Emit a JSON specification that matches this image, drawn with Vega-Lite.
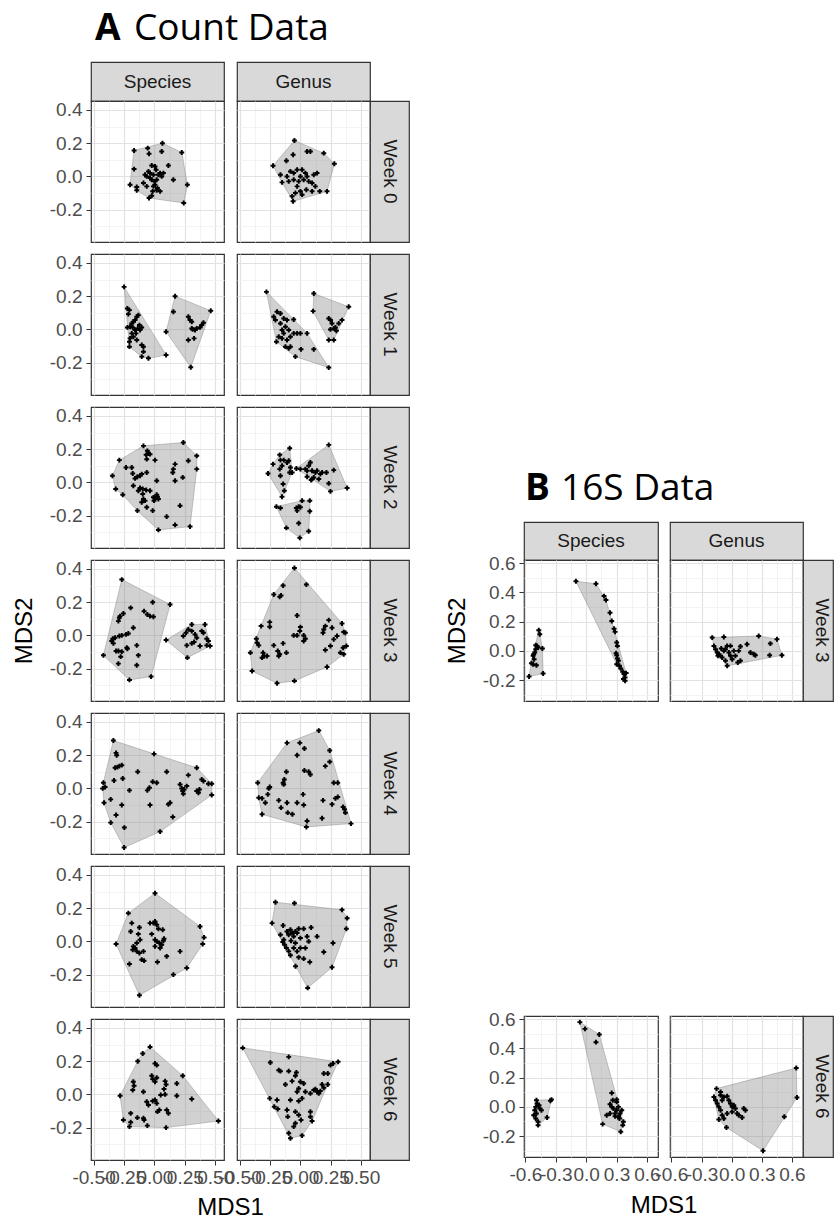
{
"$schema":"https://vega.github.io/schema/vega-lite/v6.json",
"padding":0,
"background":"#ffffff",
"spacing":0,
"config":{"view":{"stroke":null},"axis":{"labelFont":"Liberation Sans","labelFontSize":19,"labelColor":"#4d4d4d","titleFont":"Liberation Sans","titleFontSize":24,"titleFontWeight":"normal","titleColor":"#000000","domain":false,"labelOverlap":false,"labelFlush":false,"labelBound":false}},
"datasets":{
"hull":[
{"p":"A0S","g":1,"o":1,"x":0.066,"y":0.2},{"p":"A0S","g":1,"o":2,"x":0.225,"y":0.144},{"p":"A0S","g":1,"o":3,"x":0.271,"y":-0.05},{"p":"A0S","g":1,"o":4,"x":0.241,"y":-0.16},{"p":"A0S","g":1,"o":5,"x":-0.044,"y":-0.13},{"p":"A0S","g":1,"o":6,"x":-0.145,"y":-0.084},{"p":"A0S","g":1,"o":7,"x":-0.2,"y":-0.05},{"p":"A0S","g":1,"o":8,"x":-0.167,"y":0.156},
{"p":"A0G","g":1,"o":1,"x":-0.049,"y":0.216},{"p":"A0G","g":1,"o":2,"x":0.192,"y":0.14},{"p":"A0G","g":1,"o":3,"x":0.279,"y":0.076},{"p":"A0G","g":1,"o":4,"x":0.219,"y":-0.09},{"p":"A0G","g":1,"o":5,"x":-0.06,"y":-0.15},{"p":"A0G","g":1,"o":6,"x":-0.151,"y":-0.036},{"p":"A0G","g":1,"o":7,"x":-0.225,"y":0.064},
{"p":"A1S","g":1,"o":1,"x":-0.249,"y":0.256},{"p":"A1S","g":1,"o":2,"x":0.096,"y":-0.154},{"p":"A1S","g":1,"o":3,"x":-0.049,"y":-0.174},{"p":"A1S","g":1,"o":4,"x":-0.104,"y":-0.164},{"p":"A1S","g":1,"o":5,"x":-0.205,"y":-0.104},
{"p":"A1S","g":2,"o":1,"x":0.17,"y":0.2},{"p":"A1S","g":2,"o":2,"x":0.463,"y":0.112},{"p":"A1S","g":2,"o":3,"x":0.299,"y":-0.228},{"p":"A1S","g":2,"o":4,"x":0.096,"y":-0.014},
{"p":"A1G","g":1,"o":1,"x":-0.279,"y":0.226},{"p":"A1G","g":1,"o":2,"x":-0.055,"y":0.06},{"p":"A1G","g":1,"o":3,"x":0.055,"y":-0.024},{"p":"A1G","g":1,"o":4,"x":0.233,"y":-0.23},{"p":"A1G","g":1,"o":5,"x":-0.041,"y":-0.164},{"p":"A1G","g":1,"o":6,"x":-0.197,"y":-0.074},
{"p":"A1G","g":2,"o":1,"x":0.11,"y":0.216},{"p":"A1G","g":2,"o":2,"x":0.397,"y":0.136},{"p":"A1G","g":2,"o":3,"x":0.274,"y":-0.064},{"p":"A1G","g":2,"o":4,"x":0.233,"y":-0.064},{"p":"A1G","g":2,"o":5,"x":0.104,"y":0.11},
{"p":"A2S","g":1,"o":1,"x":-0.09,"y":0.22},{"p":"A2S","g":1,"o":2,"x":0.238,"y":0.24},{"p":"A2S","g":1,"o":3,"x":0.348,"y":0.16},{"p":"A2S","g":1,"o":4,"x":0.348,"y":0.08},{"p":"A2S","g":1,"o":5,"x":0.293,"y":-0.266},{"p":"A2S","g":1,"o":6,"x":0.033,"y":-0.286},{"p":"A2S","g":1,"o":7,"x":-0.14,"y":-0.17},{"p":"A2S","g":1,"o":8,"x":-0.26,"y":-0.074},{"p":"A2S","g":1,"o":9,"x":-0.318,"y":-0.04},{"p":"A2S","g":1,"o":10,"x":-0.345,"y":0.04},{"p":"A2S","g":1,"o":11,"x":-0.288,"y":0.134},
{"p":"A2G","g":1,"o":1,"x":-0.088,"y":0.206},{"p":"A2G","g":1,"o":2,"x":-0.068,"y":0.06},{"p":"A2G","g":1,"o":3,"x":-0.151,"y":-0.086},{"p":"A2G","g":1,"o":4,"x":-0.266,"y":0.054},{"p":"A2G","g":1,"o":5,"x":-0.225,"y":0.11},{"p":"A2G","g":1,"o":6,"x":-0.17,"y":0.166},
{"p":"A2G","g":2,"o":1,"x":0.233,"y":0.226},{"p":"A2G","g":2,"o":2,"x":0.384,"y":-0.034},{"p":"A2G","g":2,"o":3,"x":0.247,"y":-0.054},{"p":"A2G","g":2,"o":4,"x":-0.033,"y":0.084},
{"p":"A2G","g":3,"o":1,"x":-0.197,"y":-0.146},{"p":"A2G","g":3,"o":2,"x":0.014,"y":-0.11},{"p":"A2G","g":3,"o":3,"x":0.077,"y":-0.11},{"p":"A2G","g":3,"o":4,"x":0.077,"y":-0.174},{"p":"A2G","g":3,"o":5,"x":0.068,"y":-0.294},{"p":"A2G","g":3,"o":6,"x":-0.005,"y":-0.334},{"p":"A2G","g":3,"o":7,"x":-0.115,"y":-0.274},
{"p":"A3S","g":1,"o":1,"x":-0.268,"y":0.336},{"p":"A3S","g":1,"o":2,"x":0.129,"y":0.186},{"p":"A3S","g":1,"o":3,"x":-0.027,"y":-0.248},{"p":"A3S","g":1,"o":4,"x":-0.205,"y":-0.268},{"p":"A3S","g":1,"o":5,"x":-0.419,"y":-0.12},
{"p":"A3S","g":2,"o":1,"x":0.307,"y":0.066},{"p":"A3S","g":2,"o":2,"x":0.416,"y":0.066},{"p":"A3S","g":2,"o":3,"x":0.458,"y":-0.064},{"p":"A3S","g":2,"o":4,"x":0.271,"y":-0.134},{"p":"A3S","g":2,"o":5,"x":0.096,"y":-0.028},
{"p":"A3G","g":1,"o":1,"x":-0.049,"y":0.406},{"p":"A3G","g":1,"o":2,"x":0.342,"y":0.072},{"p":"A3G","g":1,"o":3,"x":0.37,"y":0.016},{"p":"A3G","g":1,"o":4,"x":0.378,"y":-0.064},{"p":"A3G","g":1,"o":5,"x":0.356,"y":-0.114},{"p":"A3G","g":1,"o":6,"x":0.219,"y":-0.19},{"p":"A3G","g":1,"o":7,"x":-0.049,"y":-0.274},{"p":"A3G","g":1,"o":8,"x":-0.192,"y":-0.288},{"p":"A3G","g":1,"o":9,"x":-0.397,"y":-0.214},{"p":"A3G","g":1,"o":10,"x":-0.411,"y":-0.104},{"p":"A3G","g":1,"o":11,"x":-0.219,"y":0.246},
{"p":"A4S","g":1,"o":1,"x":-0.337,"y":0.288},{"p":"A4S","g":1,"o":2,"x":0.348,"y":0.124},{"p":"A4S","g":1,"o":3,"x":0.471,"y":0.028},{"p":"A4S","g":1,"o":4,"x":0.471,"y":-0.04},{"p":"A4S","g":1,"o":5,"x":0.047,"y":-0.26},{"p":"A4S","g":1,"o":6,"x":-0.249,"y":-0.356},{"p":"A4S","g":1,"o":7,"x":-0.359,"y":-0.206},{"p":"A4S","g":1,"o":8,"x":-0.414,"y":-0.086},{"p":"A4S","g":1,"o":9,"x":-0.425,"y":0},{"p":"A4S","g":1,"o":10,"x":-0.419,"y":0.034},
{"p":"A4G","g":1,"o":1,"x":0.151,"y":0.348},{"p":"A4G","g":1,"o":2,"x":0.241,"y":0.228},{"p":"A4G","g":1,"o":3,"x":0.416,"y":-0.212},{"p":"A4G","g":1,"o":4,"x":0.049,"y":-0.232},{"p":"A4G","g":1,"o":5,"x":-0.315,"y":-0.156},{"p":"A4G","g":1,"o":6,"x":-0.342,"y":-0.056},{"p":"A4G","g":1,"o":7,"x":-0.351,"y":0.034},{"p":"A4G","g":1,"o":8,"x":-0.11,"y":0.274},
{"p":"A5S","g":1,"o":1,"x":0.005,"y":0.29},{"p":"A5S","g":1,"o":2,"x":0.375,"y":0.09},{"p":"A5S","g":1,"o":3,"x":0.408,"y":0.024},{"p":"A5S","g":1,"o":4,"x":0.397,"y":-0.016},{"p":"A5S","g":1,"o":5,"x":0.266,"y":-0.16},{"p":"A5S","g":1,"o":6,"x":-0.123,"y":-0.324},{"p":"A5S","g":1,"o":7,"x":-0.315,"y":-0.016},{"p":"A5S","g":1,"o":8,"x":-0.214,"y":0.17},
{"p":"A5G","g":1,"o":1,"x":-0.205,"y":0.236},{"p":"A5G","g":1,"o":2,"x":0.342,"y":0.19},{"p":"A5G","g":1,"o":3,"x":0.384,"y":0.14},{"p":"A5G","g":1,"o":4,"x":0.378,"y":0.076},{"p":"A5G","g":1,"o":5,"x":0.26,"y":-0.156},{"p":"A5G","g":1,"o":6,"x":0.06,"y":-0.28},{"p":"A5G","g":1,"o":7,"x":-0.233,"y":0.11},
{"p":"A6S","g":1,"o":1,"x":-0.036,"y":0.286},{"p":"A6S","g":1,"o":2,"x":0.233,"y":0.112},{"p":"A6S","g":1,"o":3,"x":0.526,"y":-0.16},{"p":"A6S","g":1,"o":4,"x":0.096,"y":-0.2},{"p":"A6S","g":1,"o":5,"x":-0.205,"y":-0.194},{"p":"A6S","g":1,"o":6,"x":-0.255,"y":-0.154},{"p":"A6S","g":1,"o":7,"x":-0.282,"y":-0.008},{"p":"A6S","g":1,"o":8,"x":-0.137,"y":0.2},{"p":"A6S","g":1,"o":9,"x":-0.096,"y":0.246},
{"p":"A6G","g":1,"o":1,"x":-0.474,"y":0.28},{"p":"A6G","g":1,"o":2,"x":0.31,"y":0.196},{"p":"A6G","g":1,"o":3,"x":0.225,"y":0.06},{"p":"A6G","g":1,"o":4,"x":0.096,"y":-0.16},{"p":"A6G","g":1,"o":5,"x":0.014,"y":-0.248},{"p":"A6G","g":1,"o":6,"x":-0.082,"y":-0.264},
{"p":"B3S","g":1,"o":1,"x":-0.468,"y":0.141},{"p":"B3S","g":1,"o":2,"x":-0.432,"y":0.016},{"p":"B3S","g":1,"o":3,"x":-0.425,"y":-0.155},{"p":"B3S","g":1,"o":4,"x":-0.564,"y":-0.175},{"p":"B3S","g":1,"o":5,"x":-0.541,"y":-0.084},
{"p":"B3S","g":2,"o":1,"x":-0.101,"y":0.477},{"p":"B3S","g":2,"o":2,"x":0.097,"y":0.459},{"p":"B3S","g":2,"o":3,"x":0.196,"y":0.348},{"p":"B3S","g":2,"o":4,"x":0.395,"y":-0.152},{"p":"B3S","g":2,"o":5,"x":0.385,"y":-0.205},{"p":"B3S","g":2,"o":6,"x":0.302,"y":-0.091},
{"p":"B3G","g":1,"o":1,"x":-0.194,"y":0.091},{"p":"B3G","g":1,"o":2,"x":0.269,"y":0.102},{"p":"B3G","g":1,"o":3,"x":0.451,"y":0.08},{"p":"B3G","g":1,"o":4,"x":0.5,"y":-0.03},{"p":"B3G","g":1,"o":5,"x":-0.045,"y":-0.102},{"p":"B3G","g":1,"o":6,"x":-0.177,"y":0.034},
{"p":"B6S","g":1,"o":1,"x":-0.491,"y":0.045},{"p":"B6S","g":1,"o":2,"x":-0.343,"y":0.05},{"p":"B6S","g":1,"o":3,"x":-0.386,"y":-0.073},{"p":"B6S","g":1,"o":4,"x":-0.475,"y":-0.125},{"p":"B6S","g":1,"o":5,"x":-0.518,"y":-0.057},
{"p":"B6S","g":2,"o":1,"x":-0.062,"y":0.58},{"p":"B6S","g":2,"o":2,"x":0.13,"y":0.495},{"p":"B6S","g":2,"o":3,"x":0.368,"y":-0.102},{"p":"B6S","g":2,"o":4,"x":0.342,"y":-0.17},{"p":"B6S","g":2,"o":5,"x":0.163,"y":-0.118},
{"p":"B6G","g":1,"o":1,"x":-0.151,"y":0.125},{"p":"B6G","g":1,"o":2,"x":0.643,"y":0.266},{"p":"B6G","g":1,"o":3,"x":0.65,"y":0.064},{"p":"B6G","g":1,"o":4,"x":0.312,"y":-0.3},{"p":"B6G","g":1,"o":5,"x":-0.052,"y":-0.141},{"p":"B6G","g":1,"o":6,"x":-0.128,"y":-0.086},{"p":"B6G","g":1,"o":7,"x":-0.177,"y":0.068}
],
"pts":[
{"p":"A0S","x":0.066,"y":0.2},{"p":"A0S","x":0.225,"y":0.144},{"p":"A0S","x":0.06,"y":0.15},{"p":"A0S","x":-0.055,"y":0.17},{"p":"A0S","x":-0.044,"y":0.136},{"p":"A0S","x":-0.167,"y":0.156},{"p":"A0S","x":-0.167,"y":0.044},{"p":"A0S","x":0.115,"y":0.066},{"p":"A0S","x":-0.022,"y":0.066},{"p":"A0S","x":0.047,"y":0.02},{"p":"A0S","x":0.156,"y":-0.02},{"p":"A0S","x":0.271,"y":-0.05},{"p":"A0S","x":0.241,"y":-0.16},{"p":"A0S","x":-0.2,"y":-0.05},{"p":"A0S","x":-0.145,"y":-0.064},{"p":"A0S","x":-0.145,"y":-0.084},{"p":"A0S","x":-0.044,"y":-0.13},{"p":"A0S","x":-0.022,"y":-0.116},{"p":"A0S","x":0.019,"y":-0.084},{"p":"A0S","x":0,"y":-0.03},{"p":"A0S","x":-0.063,"y":0},{"p":"A0S","x":-0.049,"y":0.03},{"p":"A0S","x":-0.036,"y":0.02},{"p":"A0S","x":-0.008,"y":0.01},{"p":"A0S","x":-0.022,"y":-0.02},{"p":"A0S","x":0.005,"y":-0.05},{"p":"A0S","x":0.019,"y":-0.02},{"p":"A0S","x":0.033,"y":0.01},{"p":"A0S","x":0.014,"y":0.04},{"p":"A0S","x":0.06,"y":0},{"p":"A0S","x":0.074,"y":0.02},{"p":"A0S","x":-0.09,"y":-0.04},{"p":"A0S","x":-0.008,"y":-0.06},{"p":"A0S","x":-0.063,"y":-0.06},{"p":"A0S","x":0.025,"y":-0.07},{"p":"A0S","x":0.047,"y":-0.09},{"p":"A0S","x":-0.014,"y":-0.09},{"p":"A0S","x":0.005,"y":0.06},{"p":"A0S","x":-0.036,"y":-0.01},{"p":"A0S","x":-0.077,"y":0.01},
{"p":"A0G","x":-0.049,"y":0.216},{"p":"A0G","x":-0.225,"y":0.064},{"p":"A0G","x":0.279,"y":0.076},{"p":"A0G","x":0.192,"y":0.14},{"p":"A0G","x":0.055,"y":0.15},{"p":"A0G","x":0.082,"y":0.15},{"p":"A0G","x":-0.06,"y":0.13},{"p":"A0G","x":-0.115,"y":0.094},{"p":"A0G","x":-0.164,"y":0.01},{"p":"A0G","x":-0.151,"y":-0.036},{"p":"A0G","x":-0.06,"y":-0.15},{"p":"A0G","x":-0.068,"y":-0.12},{"p":"A0G","x":-0.041,"y":-0.1},{"p":"A0G","x":-0.027,"y":-0.06},{"p":"A0G","x":-0.014,"y":-0.03},{"p":"A0G","x":0,"y":0},{"p":"A0G","x":-0.055,"y":0.02},{"p":"A0G","x":-0.082,"y":0.03},{"p":"A0G","x":0.014,"y":0.04},{"p":"A0G","x":0.041,"y":0.02},{"p":"A0G","x":0.055,"y":0},{"p":"A0G","x":0.027,"y":-0.02},{"p":"A0G","x":0.068,"y":-0.03},{"p":"A0G","x":0.096,"y":-0.04},{"p":"A0G","x":0.11,"y":0.01},{"p":"A0G","x":0.137,"y":0.02},{"p":"A0G","x":0.123,"y":-0.06},{"p":"A0G","x":0.096,"y":-0.09},{"p":"A0G","x":0.049,"y":-0.08},{"p":"A0G","x":0,"y":-0.09},{"p":"A0G","x":0.014,"y":-0.11},{"p":"A0G","x":0.219,"y":-0.09},{"p":"A0G","x":0.159,"y":-0.09},{"p":"A0G","x":-0.027,"y":0.04},{"p":"A0G","x":-0.11,"y":0},{"p":"A0G","x":-0.096,"y":-0.03},{"p":"A0G","x":-0.055,"y":-0.02},
{"p":"A1S","x":-0.249,"y":0.256},{"p":"A1S","x":-0.222,"y":0.126},{"p":"A1S","x":-0.205,"y":0.116},{"p":"A1S","x":-0.214,"y":0.092},{"p":"A1S","x":-0.222,"y":0.012},{"p":"A1S","x":-0.2,"y":0.016},{"p":"A1S","x":-0.186,"y":0.036},{"p":"A1S","x":-0.173,"y":0.046},{"p":"A1S","x":-0.159,"y":0.056},{"p":"A1S","x":-0.145,"y":0.076},{"p":"A1S","x":-0.132,"y":0.086},{"p":"A1S","x":-0.137,"y":0.006},{"p":"A1S","x":-0.118,"y":-0.004},{"p":"A1S","x":-0.104,"y":0.012},{"p":"A1S","x":-0.186,"y":-0.024},{"p":"A1S","x":-0.173,"y":-0.044},{"p":"A1S","x":-0.2,"y":-0.054},{"p":"A1S","x":-0.205,"y":-0.074},{"p":"A1S","x":-0.205,"y":-0.104},{"p":"A1S","x":-0.145,"y":-0.064},{"p":"A1S","x":-0.104,"y":-0.094},{"p":"A1S","x":-0.09,"y":-0.104},{"p":"A1S","x":-0.09,"y":-0.134},{"p":"A1S","x":-0.104,"y":-0.164},{"p":"A1S","x":-0.049,"y":-0.174},{"p":"A1S","x":0.096,"y":-0.154},{"p":"A1S","x":-0.159,"y":-0.004},{"p":"A1S","x":-0.178,"y":0.012},{"p":"A1S","x":-0.123,"y":0.026},{"p":"A1S","x":-0.151,"y":-0.024},
{"p":"A1S","x":0.096,"y":-0.014},{"p":"A1S","x":0.156,"y":0.106},{"p":"A1S","x":0.17,"y":0.2},{"p":"A1S","x":0.463,"y":0.112},{"p":"A1S","x":0.299,"y":-0.228},{"p":"A1S","x":0.279,"y":0.076},{"p":"A1S","x":0.293,"y":0.056},{"p":"A1S","x":0.307,"y":0.046},{"p":"A1S","x":0.334,"y":-0.004},{"p":"A1S","x":0.348,"y":0.006},{"p":"A1S","x":0.375,"y":0.012},{"p":"A1S","x":0.389,"y":0.026},{"p":"A1S","x":0.403,"y":0.04},{"p":"A1S","x":0.307,"y":0.006},{"p":"A1S","x":0.279,"y":-0.064},{"p":"A1S","x":0.326,"y":-0.054},{"p":"A1S","x":0.315,"y":0},
{"p":"A1G","x":-0.279,"y":0.226},{"p":"A1G","x":0.233,"y":-0.23},{"p":"A1G","x":0.11,"y":-0.12},{"p":"A1G","x":-0.041,"y":-0.164},{"p":"A1G","x":-0.096,"y":-0.114},{"p":"A1G","x":-0.197,"y":-0.074},{"p":"A1G","x":-0.219,"y":0.076},{"p":"A1G","x":-0.192,"y":0.106},{"p":"A1G","x":-0.164,"y":0.096},{"p":"A1G","x":-0.205,"y":0.056},{"p":"A1G","x":-0.164,"y":0.036},{"p":"A1G","x":-0.137,"y":0.066},{"p":"A1G","x":-0.11,"y":0.056},{"p":"A1G","x":-0.123,"y":0.016},{"p":"A1G","x":-0.137,"y":-0.024},{"p":"A1G","x":-0.178,"y":-0.044},{"p":"A1G","x":-0.151,"y":-0.054},{"p":"A1G","x":-0.11,"y":-0.064},{"p":"A1G","x":-0.082,"y":-0.044},{"p":"A1G","x":-0.055,"y":-0.024},{"p":"A1G","x":-0.027,"y":-0.024},{"p":"A1G","x":0,"y":-0.024},{"p":"A1G","x":0.055,"y":-0.024},{"p":"A1G","x":-0.055,"y":0.06},{"p":"A1G","x":-0.096,"y":-0.004},{"p":"A1G","x":-0.082,"y":-0.104},{"p":"A1G","x":-0.123,"y":-0.104},{"p":"A1G","x":0.005,"y":-0.12},{"p":"A1G","x":-0.151,"y":-0.004},
{"p":"A1G","x":0.11,"y":0.216},{"p":"A1G","x":0.397,"y":0.136},{"p":"A1G","x":0.104,"y":0.11},{"p":"A1G","x":0.233,"y":-0.064},{"p":"A1G","x":0.274,"y":-0.064},{"p":"A1G","x":0.233,"y":0.066},{"p":"A1G","x":0.247,"y":0.056},{"p":"A1G","x":0.26,"y":0.036},{"p":"A1G","x":0.274,"y":0.006},{"p":"A1G","x":0.247,"y":0},{"p":"A1G","x":0.288,"y":0.012},{"p":"A1G","x":0.315,"y":0.036},{"p":"A1G","x":0.342,"y":0.056},{"p":"A1G","x":0.296,"y":-0.008},
{"p":"A2S","x":-0.345,"y":0.04},{"p":"A2S","x":-0.318,"y":-0.04},{"p":"A2S","x":-0.288,"y":0.134},{"p":"A2S","x":-0.26,"y":-0.074},{"p":"A2S","x":-0.233,"y":0.09},{"p":"A2S","x":-0.186,"y":0.09},{"p":"A2S","x":-0.178,"y":0.054},{"p":"A2S","x":-0.173,"y":-0.02},{"p":"A2S","x":-0.159,"y":0.024},{"p":"A2S","x":-0.14,"y":0.034},{"p":"A2S","x":-0.118,"y":0.04},{"p":"A2S","x":-0.104,"y":0.05},{"p":"A2S","x":-0.09,"y":0.22},{"p":"A2S","x":-0.063,"y":0.06},{"p":"A2S","x":-0.058,"y":0.19},{"p":"A2S","x":-0.049,"y":0.174},{"p":"A2S","x":-0.036,"y":0.17},{"p":"A2S","x":-0.068,"y":0.166},{"p":"A2S","x":-0.063,"y":0.14},{"p":"A2S","x":0.005,"y":0.134},{"p":"A2S","x":0.019,"y":0.01},{"p":"A2S","x":-0.008,"y":-0.09},{"p":"A2S","x":0.019,"y":-0.074},{"p":"A2S","x":-0.014,"y":-0.17},{"p":"A2S","x":-0.063,"y":-0.15},{"p":"A2S","x":-0.104,"y":-0.12},{"p":"A2S","x":-0.077,"y":-0.11},{"p":"A2S","x":-0.096,"y":-0.07},{"p":"A2S","x":-0.132,"y":-0.05},{"p":"A2S","x":-0.118,"y":-0.034},{"p":"A2S","x":-0.09,"y":-0.1},{"p":"A2S","x":-0.14,"y":-0.17},{"p":"A2S","x":0.033,"y":-0.286},{"p":"A2S","x":0.101,"y":-0.206},{"p":"A2S","x":0.17,"y":-0.256},{"p":"A2S","x":0.238,"y":0.24},{"p":"A2S","x":0.279,"y":0.13},{"p":"A2S","x":0.348,"y":0.16},{"p":"A2S","x":0.348,"y":0.08},{"p":"A2S","x":0.293,"y":-0.266},{"p":"A2S","x":0.211,"y":-0.14},{"p":"A2S","x":0.17,"y":0.01},{"p":"A2S","x":0.233,"y":0.03},{"p":"A2S","x":0.156,"y":0.08},{"p":"A2S","x":0.17,"y":0.11},{"p":"A2S","x":0.151,"y":0.06},{"p":"A2S","x":-0.096,"y":-0.04},{"p":"A2S","x":-0.068,"y":-0.046},{"p":"A2S","x":-0.036,"y":-0.05},{"p":"A2S","x":-0.003,"y":-0.11},{"p":"A2S","x":0.005,"y":-0.094},{"p":"A2S","x":0.033,"y":-0.1},{"p":"A2S","x":0.025,"y":-0.086},
{"p":"A2G","x":-0.266,"y":0.054},{"p":"A2G","x":-0.225,"y":0.11},{"p":"A2G","x":-0.17,"y":0.166},{"p":"A2G","x":-0.088,"y":0.206},{"p":"A2G","x":-0.164,"y":0.134},{"p":"A2G","x":-0.137,"y":0.134},{"p":"A2G","x":-0.11,"y":0.12},{"p":"A2G","x":-0.151,"y":0.1},{"p":"A2G","x":-0.088,"y":0.06},{"p":"A2G","x":-0.068,"y":0.06},{"p":"A2G","x":-0.082,"y":0.09},{"p":"A2G","x":-0.096,"y":0.13},{"p":"A2G","x":-0.164,"y":0.04},{"p":"A2G","x":-0.142,"y":-0.01},{"p":"A2G","x":-0.132,"y":-0.05},{"p":"A2G","x":-0.151,"y":-0.086},{"p":"A2G","x":-0.17,"y":0.08},
{"p":"A2G","x":0.233,"y":0.226},{"p":"A2G","x":0.274,"y":0.074},{"p":"A2G","x":0.384,"y":-0.034},{"p":"A2G","x":0.247,"y":-0.054},{"p":"A2G","x":0.233,"y":-0.006},{"p":"A2G","x":-0.033,"y":0.084},{"p":"A2G","x":0,"y":0.08},{"p":"A2G","x":0.041,"y":0.08},{"p":"A2G","x":0.055,"y":0.07},{"p":"A2G","x":0.068,"y":0.1},{"p":"A2G","x":0.082,"y":0.12},{"p":"A2G","x":0.096,"y":0.07},{"p":"A2G","x":0.11,"y":0.03},{"p":"A2G","x":0.123,"y":0.06},{"p":"A2G","x":0.137,"y":0.07},{"p":"A2G","x":0.151,"y":0.02},{"p":"A2G","x":0.164,"y":0.05},{"p":"A2G","x":0.178,"y":0.06},{"p":"A2G","x":0.096,"y":0.02},{"p":"A2G","x":0.088,"y":0.014},{"p":"A2G","x":0.055,"y":0.034},{"p":"A2G","x":0.214,"y":0.06},
{"p":"A2G","x":-0.197,"y":-0.146},{"p":"A2G","x":-0.164,"y":-0.154},{"p":"A2G","x":-0.115,"y":-0.274},{"p":"A2G","x":-0.005,"y":-0.334},{"p":"A2G","x":0.068,"y":-0.294},{"p":"A2G","x":0.077,"y":-0.174},{"p":"A2G","x":0.077,"y":-0.11},{"p":"A2G","x":0.014,"y":-0.11},{"p":"A2G","x":-0.033,"y":-0.154},{"p":"A2G","x":-0.014,"y":-0.146},{"p":"A2G","x":-0.027,"y":-0.17},{"p":"A2G","x":-0.014,"y":-0.246},{"p":"A2G","x":0,"y":-0.15},
{"p":"A3S","x":-0.268,"y":0.336},{"p":"A3S","x":-0.014,"y":0.2},{"p":"A3S","x":0.129,"y":0.186},{"p":"A3S","x":-0.027,"y":-0.248},{"p":"A3S","x":-0.205,"y":-0.268},{"p":"A3S","x":-0.419,"y":-0.12},{"p":"A3S","x":-0.296,"y":-0.17},{"p":"A3S","x":-0.351,"y":-0.034},{"p":"A3S","x":-0.342,"y":-0.02},{"p":"A3S","x":-0.337,"y":-0.048},{"p":"A3S","x":-0.323,"y":-0.014},{"p":"A3S","x":-0.296,"y":0.086},{"p":"A3S","x":-0.288,"y":0.106},{"p":"A3S","x":-0.282,"y":0.116},{"p":"A3S","x":-0.255,"y":0.132},{"p":"A3S","x":-0.195,"y":0.166},{"p":"A3S","x":-0.288,"y":-0.004},{"p":"A3S","x":-0.268,"y":0},{"p":"A3S","x":-0.233,"y":0.006},{"p":"A3S","x":-0.214,"y":0.012},{"p":"A3S","x":-0.173,"y":0.046},{"p":"A3S","x":-0.315,"y":-0.094},{"p":"A3S","x":-0.296,"y":-0.094},{"p":"A3S","x":-0.268,"y":-0.098},{"p":"A3S","x":-0.227,"y":-0.074},{"p":"A3S","x":-0.145,"y":-0.06},{"p":"A3S","x":-0.132,"y":-0.12},{"p":"A3S","x":-0.145,"y":-0.18},{"p":"A3S","x":-0.085,"y":0.146},{"p":"A3S","x":-0.058,"y":0.126},{"p":"A3S","x":-0.036,"y":0.116},{"p":"A3S","x":-0.008,"y":0.112},{"p":"A3S","x":-0.222,"y":-0.08},{"p":"A3S","x":-0.277,"y":-0.128},
{"p":"A3S","x":0.096,"y":-0.028},{"p":"A3S","x":0.271,"y":-0.134},{"p":"A3S","x":0.458,"y":-0.064},{"p":"A3S","x":0.416,"y":0.066},{"p":"A3S","x":0.307,"y":0.066},{"p":"A3S","x":0.238,"y":-0.004},{"p":"A3S","x":0.26,"y":0.016},{"p":"A3S","x":0.279,"y":0.036},{"p":"A3S","x":0.307,"y":0.026},{"p":"A3S","x":0.334,"y":0.006},{"p":"A3S","x":0.266,"y":-0.06},{"p":"A3S","x":0.307,"y":-0.048},{"p":"A3S","x":0.326,"y":-0.04},{"p":"A3S","x":0.348,"y":-0.014},{"p":"A3S","x":0.389,"y":0.026},{"p":"A3S","x":0.403,"y":0.016},{"p":"A3S","x":0.43,"y":-0.02},{"p":"A3S","x":0.444,"y":-0.034},{"p":"A3S","x":0.375,"y":-0.064},{"p":"A3S","x":0.43,"y":-0.06},
{"p":"A3G","x":-0.049,"y":0.406},{"p":"A3G","x":0.049,"y":0.306},{"p":"A3G","x":-0.142,"y":0.3},{"p":"A3G","x":-0.219,"y":0.246},{"p":"A3G","x":-0.17,"y":0.232},{"p":"A3G","x":-0.159,"y":0.24},{"p":"A3G","x":-0.411,"y":-0.104},{"p":"A3G","x":-0.397,"y":-0.214},{"p":"A3G","x":-0.192,"y":-0.288},{"p":"A3G","x":-0.049,"y":-0.274},{"p":"A3G","x":0.219,"y":-0.19},{"p":"A3G","x":0.356,"y":-0.114},{"p":"A3G","x":0.378,"y":-0.064},{"p":"A3G","x":0.37,"y":0.016},{"p":"A3G","x":0.342,"y":0.072},{"p":"A3G","x":-0.323,"y":0.056},{"p":"A3G","x":-0.252,"y":0.08},{"p":"A3G","x":-0.252,"y":0.052},{"p":"A3G","x":-0.362,"y":-0.02},{"p":"A3G","x":-0.356,"y":-0.044},{"p":"A3G","x":-0.342,"y":-0.06},{"p":"A3G","x":-0.307,"y":-0.104},{"p":"A3G","x":-0.296,"y":-0.124},{"p":"A3G","x":-0.274,"y":-0.124},{"p":"A3G","x":-0.315,"y":-0.134},{"p":"A3G","x":-0.219,"y":-0.06},{"p":"A3G","x":-0.186,"y":-0.094},{"p":"A3G","x":-0.17,"y":-0.114},{"p":"A3G","x":-0.178,"y":-0.124},{"p":"A3G","x":-0.115,"y":-0.104},{"p":"A3G","x":-0.142,"y":-0.048},{"p":"A3G","x":-0.027,"y":0.12},{"p":"A3G","x":0,"y":0.05},{"p":"A3G","x":-0.005,"y":0.026},{"p":"A3G","x":-0.055,"y":0},{"p":"A3G","x":-0.027,"y":0},{"p":"A3G","x":0.027,"y":0},{"p":"A3G","x":0.041,"y":-0.02},{"p":"A3G","x":0.027,"y":-0.034},{"p":"A3G","x":0.233,"y":0.092},{"p":"A3G","x":0.205,"y":0.056},{"p":"A3G","x":0.192,"y":0.036},{"p":"A3G","x":0.186,"y":0.016},{"p":"A3G","x":0.26,"y":0.046},{"p":"A3G","x":0.274,"y":-0.024},{"p":"A3G","x":0.205,"y":-0.088},{"p":"A3G","x":0.247,"y":-0.064},{"p":"A3G","x":0.329,"y":-0.104},{"p":"A3G","x":0.351,"y":-0.074},{"p":"A3G","x":0.356,"y":0.02},{"p":"A3G","x":0.301,"y":-0.004},
{"p":"A4S","x":-0.337,"y":0.288},{"p":"A4S","x":-0.315,"y":0.214},{"p":"A4S","x":-0.31,"y":0.2},{"p":"A4S","x":-0.323,"y":0.124},{"p":"A4S","x":-0.304,"y":0.128},{"p":"A4S","x":-0.288,"y":0.134},{"p":"A4S","x":-0.268,"y":0.14},{"p":"A4S","x":-0.332,"y":0.048},{"p":"A4S","x":-0.26,"y":0.06},{"p":"A4S","x":-0.419,"y":0.034},{"p":"A4S","x":-0.425,"y":0},{"p":"A4S","x":-0.405,"y":0.008},{"p":"A4S","x":-0.414,"y":-0.086},{"p":"A4S","x":-0.359,"y":-0.066},{"p":"A4S","x":-0.315,"y":-0.16},{"p":"A4S","x":-0.359,"y":-0.206},{"p":"A4S","x":-0.247,"y":-0.236},{"p":"A4S","x":-0.249,"y":-0.356},{"p":"A4S","x":-0.268,"y":-0.1},{"p":"A4S","x":-0.205,"y":-0.012},{"p":"A4S","x":-0.137,"y":0.1},{"p":"A4S","x":-0.058,"y":-0.012},{"p":"A4S","x":-0.041,"y":0.004},{"p":"A4S","x":-0.036,"y":-0.1},{"p":"A4S","x":-0.003,"y":0.208},{"p":"A4S","x":-0.014,"y":0.04},{"p":"A4S","x":0.019,"y":0.034},{"p":"A4S","x":0.101,"y":0.1},{"p":"A4S","x":0.115,"y":-0.096},{"p":"A4S","x":0.129,"y":-0.086},{"p":"A4S","x":0.151,"y":-0.172},{"p":"A4S","x":0.047,"y":-0.26},{"p":"A4S","x":0.211,"y":0.024},{"p":"A4S","x":0.225,"y":0},{"p":"A4S","x":0.233,"y":-0.016},{"p":"A4S","x":0.238,"y":-0.032},{"p":"A4S","x":0.279,"y":0.08},{"p":"A4S","x":0.348,"y":0.124},{"p":"A4S","x":0.37,"y":-0.006},{"p":"A4S","x":0.362,"y":-0.026},{"p":"A4S","x":0.348,"y":-0.016},{"p":"A4S","x":0.389,"y":0.054},{"p":"A4S","x":0.403,"y":0.044},{"p":"A4S","x":0.444,"y":0.028},{"p":"A4S","x":0.471,"y":0.028},{"p":"A4S","x":0.471,"y":-0.04},{"p":"A4S","x":0.266,"y":0.014},{"p":"A4S","x":0.244,"y":-0.006},
{"p":"A4G","x":0.151,"y":0.348},{"p":"A4G","x":-0.11,"y":0.274},{"p":"A4G","x":-0.005,"y":0.274},{"p":"A4G","x":0.033,"y":0.24},{"p":"A4G","x":-0.027,"y":0.2},{"p":"A4G","x":0.241,"y":0.228},{"p":"A4G","x":0.241,"y":0.16},{"p":"A4G","x":0.205,"y":0.134},{"p":"A4G","x":0.274,"y":0.034},{"p":"A4G","x":0.307,"y":0.034},{"p":"A4G","x":0.307,"y":-0.052},{"p":"A4G","x":0.288,"y":-0.06},{"p":"A4G","x":0.26,"y":-0.096},{"p":"A4G","x":0.186,"y":-0.072},{"p":"A4G","x":0.351,"y":-0.112},{"p":"A4G","x":0.362,"y":-0.126},{"p":"A4G","x":0.37,"y":-0.146},{"p":"A4G","x":0.416,"y":-0.212},{"p":"A4G","x":0.178,"y":-0.18},{"p":"A4G","x":0.055,"y":-0.196},{"p":"A4G","x":0.049,"y":-0.232},{"p":"A4G","x":-0.351,"y":0.034},{"p":"A4G","x":-0.342,"y":-0.056},{"p":"A4G","x":-0.315,"y":-0.06},{"p":"A4G","x":-0.288,"y":-0.086},{"p":"A4G","x":-0.315,"y":-0.156},{"p":"A4G","x":-0.26,"y":0},{"p":"A4G","x":-0.252,"y":0.008},{"p":"A4G","x":-0.268,"y":-0.036},{"p":"A4G","x":-0.178,"y":-0.072},{"p":"A4G","x":-0.159,"y":-0.116},{"p":"A4G","x":-0.11,"y":-0.086},{"p":"A4G","x":-0.104,"y":-0.146},{"p":"A4G","x":-0.066,"y":-0.156},{"p":"A4G","x":-0.027,"y":-0.086},{"p":"A4G","x":0.027,"y":-0.1},{"p":"A4G","x":0.022,"y":-0.036},{"p":"A4G","x":0.068,"y":0.1},{"p":"A4G","x":0.082,"y":0.084},{"p":"A4G","x":0.033,"y":0.108},{"p":"A4G","x":-0.115,"y":0.1},{"p":"A4G","x":-0.132,"y":0.054},{"p":"A4G","x":-0.137,"y":0.024},{"p":"A4G","x":-0.142,"y":0.034},
{"p":"A5S","x":0.005,"y":0.29},{"p":"A5S","x":-0.214,"y":0.17},{"p":"A5S","x":-0.186,"y":0.11},{"p":"A5S","x":-0.195,"y":0.06},{"p":"A5S","x":-0.123,"y":0.084},{"p":"A5S","x":-0.132,"y":0.044},{"p":"A5S","x":-0.118,"y":0.01},{"p":"A5S","x":-0.145,"y":-0.01},{"p":"A5S","x":-0.173,"y":-0.03},{"p":"A5S","x":-0.178,"y":-0.05},{"p":"A5S","x":-0.159,"y":-0.04},{"p":"A5S","x":-0.145,"y":-0.06},{"p":"A5S","x":-0.123,"y":-0.07},{"p":"A5S","x":-0.09,"y":-0.06},{"p":"A5S","x":-0.104,"y":-0.11},{"p":"A5S","x":-0.085,"y":-0.116},{"p":"A5S","x":-0.205,"y":-0.136},{"p":"A5S","x":-0.315,"y":-0.016},{"p":"A5S","x":-0.123,"y":-0.324},{"p":"A5S","x":-0.036,"y":0.11},{"p":"A5S","x":-0.008,"y":0.11},{"p":"A5S","x":0.005,"y":0.12},{"p":"A5S","x":0.019,"y":0.1},{"p":"A5S","x":0.033,"y":0.076},{"p":"A5S","x":-0.022,"y":0.044},{"p":"A5S","x":0.005,"y":0.01},{"p":"A5S","x":0.019,"y":0},{"p":"A5S","x":0.041,"y":-0.01},{"p":"A5S","x":0.06,"y":-0.02},{"p":"A5S","x":0.079,"y":0.016},{"p":"A5S","x":0.068,"y":0.07},{"p":"A5S","x":0.025,"y":-0.124},{"p":"A5S","x":0.101,"y":-0.09},{"p":"A5S","x":0.211,"y":-0.06},{"p":"A5S","x":0.156,"y":-0.2},{"p":"A5S","x":0.266,"y":-0.16},{"p":"A5S","x":0.375,"y":0.09},{"p":"A5S","x":0.408,"y":0.024},{"p":"A5S","x":0.397,"y":-0.016},{"p":"A5S","x":0.074,"y":0.004},{"p":"A5S","x":0.005,"y":-0.03},{"p":"A5S","x":0.047,"y":-0.04},
{"p":"A5G","x":-0.205,"y":0.236},{"p":"A5G","x":-0.049,"y":0.23},{"p":"A5G","x":0.342,"y":0.19},{"p":"A5G","x":0.384,"y":0.14},{"p":"A5G","x":0.378,"y":0.076},{"p":"A5G","x":0.268,"y":-0.01},{"p":"A5G","x":0.26,"y":-0.156},{"p":"A5G","x":0.06,"y":-0.28},{"p":"A5G","x":-0.233,"y":0.11},{"p":"A5G","x":-0.142,"y":0.096},{"p":"A5G","x":-0.164,"y":0.04},{"p":"A5G","x":-0.13,"y":-0.02},{"p":"A5G","x":-0.145,"y":-0.004},{"p":"A5G","x":-0.137,"y":0.01},{"p":"A5G","x":-0.11,"y":0.06},{"p":"A5G","x":-0.096,"y":0.04},{"p":"A5G","x":-0.082,"y":0.07},{"p":"A5G","x":-0.068,"y":0.05},{"p":"A5G","x":-0.055,"y":0.03},{"p":"A5G","x":-0.041,"y":0.06},{"p":"A5G","x":-0.027,"y":0.05},{"p":"A5G","x":-0.014,"y":0.076},{"p":"A5G","x":0,"y":0.02},{"p":"A5G","x":0.027,"y":0.076},{"p":"A5G","x":0.055,"y":0.03},{"p":"A5G","x":0.068,"y":0},{"p":"A5G","x":0.088,"y":0.084},{"p":"A5G","x":0.137,"y":0.03},{"p":"A5G","x":0.192,"y":-0.064},{"p":"A5G","x":0.077,"y":-0.124},{"p":"A5G","x":0.027,"y":-0.104},{"p":"A5G","x":-0.014,"y":-0.096},{"p":"A5G","x":-0.04,"y":-0.15},{"p":"A5G","x":-0.096,"y":-0.06},{"p":"A5G","x":-0.082,"y":-0.084},{"p":"A5G","x":-0.115,"y":-0.04},{"p":"A5G","x":-0.055,"y":-0.04},{"p":"A5G","x":-0.027,"y":-0.06},{"p":"A5G","x":0,"y":-0.04},{"p":"A5G","x":0.041,"y":-0.04},{"p":"A5G","x":-0.041,"y":-0.01},{"p":"A5G","x":-0.077,"y":0.004},
{"p":"A6S","x":-0.036,"y":0.286},{"p":"A6S","x":-0.096,"y":0.246},{"p":"A6S","x":-0.137,"y":0.2},{"p":"A6S","x":-0.282,"y":-0.008},{"p":"A6S","x":-0.255,"y":-0.154},{"p":"A6S","x":-0.205,"y":-0.194},{"p":"A6S","x":-0.195,"y":-0.168},{"p":"A6S","x":-0.058,"y":-0.188},{"p":"A6S","x":0.096,"y":-0.2},{"p":"A6S","x":0.526,"y":-0.16},{"p":"A6S","x":0.307,"y":-0.028},{"p":"A6S","x":0.233,"y":0.112},{"p":"A6S","x":0.005,"y":0.186},{"p":"A6S","x":0.019,"y":0.176},{"p":"A6S","x":-0.022,"y":0.112},{"p":"A6S","x":-0.014,"y":0.092},{"p":"A6S","x":0.005,"y":0.076},{"p":"A6S","x":0.019,"y":0.1},{"p":"A6S","x":0.088,"y":0.08},{"p":"A6S","x":0.096,"y":0.06},{"p":"A6S","x":0.079,"y":0.032},{"p":"A6S","x":0.052,"y":-0.004},{"p":"A6S","x":0.088,"y":0},{"p":"A6S","x":0.184,"y":0.066},{"p":"A6S","x":0.184,"y":-0.008},{"p":"A6S","x":-0.173,"y":0.076},{"p":"A6S","x":-0.167,"y":0.052},{"p":"A6S","x":-0.178,"y":0.026},{"p":"A6S","x":-0.09,"y":0.016},{"p":"A6S","x":-0.063,"y":-0.044},{"p":"A6S","x":-0.049,"y":-0.064},{"p":"A6S","x":-0.014,"y":-0.04},{"p":"A6S","x":0.005,"y":-0.034},{"p":"A6S","x":0.019,"y":-0.054},{"p":"A6S","x":0.025,"y":-0.104},{"p":"A6S","x":0.041,"y":-0.094},{"p":"A6S","x":0.101,"y":-0.094},{"p":"A6S","x":0.115,"y":-0.114},{"p":"A6S","x":-0.195,"y":-0.114},{"p":"A6S","x":-0.14,"y":-0.14},{"p":"A6S","x":-0.09,"y":-0.144},{"p":"A6S","x":-0.085,"y":-0.154},
{"p":"A6G","x":-0.474,"y":0.28},{"p":"A6G","x":-0.096,"y":0.226},{"p":"A6G","x":-0.247,"y":0.192},{"p":"A6G","x":-0.178,"y":0.146},{"p":"A6G","x":-0.164,"y":0.14},{"p":"A6G","x":-0.096,"y":0.14},{"p":"A6G","x":-0.033,"y":0.132},{"p":"A6G","x":-0.041,"y":0.112},{"p":"A6G","x":-0.068,"y":0.08},{"p":"A6G","x":-0.123,"y":0.06},{"p":"A6G","x":0,"y":0.076},{"p":"A6G","x":0.027,"y":0.066},{"p":"A6G","x":-0.014,"y":0.036},{"p":"A6G","x":-0.027,"y":0.016},{"p":"A6G","x":0.041,"y":0.016},{"p":"A6G","x":0.014,"y":-0.024},{"p":"A6G","x":-0.014,"y":-0.04},{"p":"A6G","x":0.082,"y":0.006},{"p":"A6G","x":0.11,"y":0.026},{"p":"A6G","x":0.123,"y":0.032},{"p":"A6G","x":0.137,"y":0.016},{"p":"A6G","x":0.151,"y":0.006},{"p":"A6G","x":0.164,"y":0.02},{"p":"A6G","x":0.192,"y":0.04},{"p":"A6G","x":0.178,"y":0.06},{"p":"A6G","x":0.225,"y":0.126},{"p":"A6G","x":0.192,"y":0.126},{"p":"A6G","x":0.247,"y":0.176},{"p":"A6G","x":0.268,"y":0.186},{"p":"A6G","x":0.31,"y":0.196},{"p":"A6G","x":0.225,"y":0.06},{"p":"A6G","x":-0.252,"y":-0.024},{"p":"A6G","x":-0.192,"y":-0.034},{"p":"A6G","x":-0.215,"y":-0.074},{"p":"A6G","x":-0.186,"y":-0.088},{"p":"A6G","x":-0.11,"y":-0.094},{"p":"A6G","x":-0.104,"y":-0.134},{"p":"A6G","x":-0.041,"y":-0.104},{"p":"A6G","x":-0.014,"y":-0.124},{"p":"A6G","x":0.005,"y":-0.154},{"p":"A6G","x":-0.041,"y":-0.174},{"p":"A6G","x":-0.055,"y":-0.194},{"p":"A6G","x":-0.096,"y":-0.234},{"p":"A6G","x":-0.082,"y":-0.264},{"p":"A6G","x":0.014,"y":-0.248},{"p":"A6G","x":0.082,"y":-0.104},{"p":"A6G","x":0.082,"y":-0.134},{"p":"A6G","x":0.096,"y":-0.16},{"p":"A6G","x":-0.082,"y":-0.034},
{"p":"B3S","x":-0.468,"y":0.141},{"p":"B3S","x":-0.458,"y":0.114},{"p":"B3S","x":-0.564,"y":-0.175},{"p":"B3S","x":-0.425,"y":-0.155},{"p":"B3S","x":-0.432,"y":0.016},{"p":"B3S","x":-0.498,"y":0.011},{"p":"B3S","x":-0.508,"y":-0.011},{"p":"B3S","x":-0.518,"y":-0.023},{"p":"B3S","x":-0.524,"y":-0.034},{"p":"B3S","x":-0.514,"y":-0.057},{"p":"B3S","x":-0.541,"y":-0.084},{"p":"B3S","x":-0.524,"y":-0.091},{"p":"B3S","x":-0.491,"y":-0.098},{"p":"B3S","x":-0.485,"y":0.034},{"p":"B3S","x":-0.498,"y":0.039},{"p":"B3S","x":-0.475,"y":0.023},
{"p":"B3S","x":-0.101,"y":0.477},{"p":"B3S","x":0.097,"y":0.459},{"p":"B3S","x":0.177,"y":0.375},{"p":"B3S","x":0.196,"y":0.348},{"p":"B3S","x":0.236,"y":0.261},{"p":"B3S","x":0.253,"y":0.205},{"p":"B3S","x":0.276,"y":0.152},{"p":"B3S","x":0.286,"y":0.13},{"p":"B3S","x":0.302,"y":0.057},{"p":"B3S","x":0.309,"y":0.034},{"p":"B3S","x":0.296,"y":-0.016},{"p":"B3S","x":0.302,"y":-0.03},{"p":"B3S","x":0.309,"y":-0.052},{"p":"B3S","x":0.319,"y":-0.068},{"p":"B3S","x":0.302,"y":-0.091},{"p":"B3S","x":0.329,"y":-0.102},{"p":"B3S","x":0.342,"y":-0.12},{"p":"B3S","x":0.362,"y":-0.143},{"p":"B3S","x":0.375,"y":-0.159},{"p":"B3S","x":0.395,"y":-0.152},{"p":"B3S","x":0.385,"y":-0.182},{"p":"B3S","x":0.368,"y":-0.193},{"p":"B3S","x":0.385,"y":-0.205},
{"p":"B3G","x":-0.194,"y":0.091},{"p":"B3G","x":-0.078,"y":0.095},{"p":"B3G","x":0.269,"y":0.102},{"p":"B3G","x":0.451,"y":0.08},{"p":"B3G","x":0.5,"y":-0.03},{"p":"B3G","x":0.378,"y":-0.03},{"p":"B3G","x":0.385,"y":0.05},{"p":"B3G","x":0.236,"y":-0.03},{"p":"B3G","x":0.153,"y":0.045},{"p":"B3G","x":0.087,"y":0.03},{"p":"B3G","x":0.07,"y":0},{"p":"B3G","x":0.087,"y":-0.068},{"p":"B3G","x":0.061,"y":-0.08},{"p":"B3G","x":-0.045,"y":-0.102},{"p":"B3G","x":-0.177,"y":0.034},{"p":"B3G","x":-0.161,"y":0.011},{"p":"B3G","x":-0.144,"y":-0.011},{"p":"B3G","x":-0.128,"y":-0.023},{"p":"B3G","x":-0.111,"y":-0.034},{"p":"B3G","x":-0.095,"y":-0.045},{"p":"B3G","x":-0.078,"y":0},{"p":"B3G","x":-0.062,"y":0.011},{"p":"B3G","x":-0.045,"y":0.034},{"p":"B3G","x":-0.028,"y":-0.011},{"p":"B3G","x":-0.012,"y":-0.034},{"p":"B3G","x":0.005,"y":-0.057},{"p":"B3G","x":0.021,"y":0},{"p":"B3G","x":0.037,"y":-0.034},{"p":"B3G","x":-0.104,"y":0.016},{"p":"B3G","x":-0.137,"y":-0.034},{"p":"B3G","x":-0.062,"y":-0.068},{"p":"B3G","x":-0.012,"y":0.034},{"p":"B3G","x":0.187,"y":-0.011},{"p":"B3G","x":0.22,"y":-0.023},
{"p":"B6S","x":-0.491,"y":0.045},{"p":"B6S","x":-0.485,"y":0.023},{"p":"B6S","x":-0.498,"y":0},{"p":"B6S","x":-0.508,"y":-0.023},{"p":"B6S","x":-0.491,"y":-0.045},{"p":"B6S","x":-0.518,"y":-0.057},{"p":"B6S","x":-0.498,"y":-0.08},{"p":"B6S","x":-0.475,"y":-0.102},{"p":"B6S","x":-0.475,"y":-0.125},{"p":"B6S","x":-0.458,"y":-0.011},{"p":"B6S","x":-0.442,"y":-0.023},{"p":"B6S","x":-0.465,"y":0.011},{"p":"B6S","x":-0.386,"y":-0.073},{"p":"B6S","x":-0.343,"y":0.05},{"p":"B6S","x":-0.353,"y":0.041},
{"p":"B6S","x":-0.062,"y":0.58},{"p":"B6S","x":-0.012,"y":0.534},{"p":"B6S","x":0.13,"y":0.495},{"p":"B6S","x":0.097,"y":0.443},{"p":"B6S","x":0.253,"y":0.095},{"p":"B6S","x":0.302,"y":0.05},{"p":"B6S","x":0.163,"y":-0.118},{"p":"B6S","x":0.319,"y":-0.068},{"p":"B6S","x":0.368,"y":-0.102},{"p":"B6S","x":0.342,"y":-0.17},{"p":"B6S","x":0.286,"y":-0.064},{"p":"B6S","x":0.302,"y":-0.023},{"p":"B6S","x":0.319,"y":0},{"p":"B6S","x":0.236,"y":0.018},{"p":"B6S","x":0.253,"y":0},{"p":"B6S","x":0.269,"y":-0.011},{"p":"B6S","x":0.286,"y":-0.045},{"p":"B6S","x":0.302,"y":0.034},{"p":"B6S","x":0.263,"y":0.045},{"p":"B6S","x":0.335,"y":-0.045},{"p":"B6S","x":0.352,"y":-0.023},{"p":"B6S","x":0.329,"y":-0.08},{"p":"B6S","x":0.236,"y":-0.045},{"p":"B6S","x":0.362,"y":-0.125},{"p":"B6S","x":0.203,"y":-0.057},
{"p":"B6G","x":-0.151,"y":0.125},{"p":"B6G","x":0.643,"y":0.266},{"p":"B6G","x":0.65,"y":0.064},{"p":"B6G","x":0.524,"y":-0.068},{"p":"B6G","x":0.312,"y":-0.3},{"p":"B6G","x":-0.052,"y":-0.141},{"p":"B6G","x":-0.177,"y":0.068},{"p":"B6G","x":-0.161,"y":0.045},{"p":"B6G","x":-0.144,"y":0.023},{"p":"B6G","x":-0.128,"y":0},{"p":"B6G","x":-0.111,"y":-0.023},{"p":"B6G","x":-0.095,"y":0.045},{"p":"B6G","x":-0.078,"y":0.068},{"p":"B6G","x":-0.111,"y":0.08},{"p":"B6G","x":-0.045,"y":0.073},{"p":"B6G","x":-0.029,"y":0.045},{"p":"B6G","x":-0.012,"y":0.023},{"p":"B6G","x":0.005,"y":0},{"p":"B6G","x":0.021,"y":0.011},{"p":"B6G","x":0.037,"y":-0.011},{"p":"B6G","x":0.054,"y":-0.045},{"p":"B6G","x":-0.095,"y":-0.057},{"p":"B6G","x":-0.078,"y":-0.08},{"p":"B6G","x":-0.045,"y":-0.045},{"p":"B6G","x":0.005,"y":-0.034},{"p":"B6G","x":0.104,"y":-0.073},{"p":"B6G","x":0.12,"y":-0.011},{"p":"B6G","x":0.137,"y":-0.023},{"p":"B6G","x":0.071,"y":-0.057},{"p":"B6G","x":-0.128,"y":-0.086},{"p":"B6G","x":-0.111,"y":0.102}
]
},
"hconcat":[
{"columns":5,"spacing":0,"bounds":"flush","align":"each","concat":[
{"width":91,"height":62,"data":{"values":[]},"mark":"point"},
{"width":133,"height":62,"layer":[
 {"data":{"values":[{"t":"A"}]},"mark":{"type":"text","font":"Open Sans","fontSize":37,"fontWeight":"bold","align":"left","baseline":"alphabetic","dx":-62.5,"dy":8.5,"color":"#000000"},"encoding":{"text":{"field":"t","type":"nominal"}}},
 {"data":{"values":[{"t":"Count Data"}]},"mark":{"type":"text","font":"Open Sans","fontSize":37,"fontWeight":"normal","align":"left","baseline":"alphabetic","dx":-23.5,"dy":8.5,"color":"#000000"},"encoding":{"text":{"field":"t","type":"nominal"}}}]},
{"width":13,"height":1,"data":{"values":[]},"mark":"point"},
{"width":133,"height":1,"data":{"values":[]},"mark":"point"},
{"width":39,"height":1,"data":{"values":[]},"mark":"point"},

{"width":1,"height":39,"data":{"values":[]},"mark":"point"},
{"width":133,"height":39,"view":{"fill":"#d9d9d9","stroke":"#333333","strokeWidth":1.2},"data":{"values":[{"t":"Species"}]},"mark":{"type":"text","font":"Liberation Sans","fontSize":19,"color":"#1a1a1a"},"encoding":{"text":{"field":"t","type":"nominal"}}},
{"width":1,"height":1,"data":{"values":[]},"mark":"point"},
{"width":133,"height":39,"view":{"fill":"#d9d9d9","stroke":"#333333","strokeWidth":1.2},"data":{"values":[{"t":"Genus"}]},"mark":{"type":"text","font":"Liberation Sans","fontSize":19,"color":"#1a1a1a"},"encoding":{"text":{"field":"t","type":"nominal"}}},
{"width":1,"height":1,"data":{"values":[]},"mark":"point"},

{"width":1,"height":141,"data":{"values":[]},"mark":"point"},
{"width":133,"height":141,"view":{"stroke":"#333333","strokeWidth":1.2},"encoding":{"x":{"field":"x","type":"quantitative","scale":{"domain":[-0.521,0.572],"nice":false,"zero":false},"axis":{"values":[-0.5,-0.375,-0.25,-0.125,0,0.125,0.25,0.375,0.5],"title":null,"labels":false,"ticks":false,"gridColor":{"condition":{"test":"abs(round(datum.value*8))%2==1","value":"#f0f0f0"},"value":"#e2e2e2"},"gridWidth":{"condition":{"test":"abs(round(datum.value*8))%2==1","value":0.8},"value":1.2}}},"y":{"field":"y","type":"quantitative","scale":{"domain":[-0.395,0.454],"nice":false,"zero":false},"axis":{"values":[-0.3,-0.2,-0.1,0,0.1,0.2,0.3,0.4],"title":null,"tickSize":5,"labelPadding":4,"labelExpr":"abs(round(datum.value*10))%2==1 ? '' : replace(format(datum.value,'.1f'),'\u2212','-')","tickColor":{"condition":{"test":"abs(round(datum.value*10))%2==1","value":"transparent"},"value":"#333333"},"gridColor":{"condition":{"test":"abs(round(datum.value*10))%2==1","value":"#f0f0f0"},"value":"#e2e2e2"},"gridWidth":{"condition":{"test":"abs(round(datum.value*10))%2==1","value":0.8},"value":1.2}}}},"layer":[{"data":{"name":"hull"},"transform":[{"filter":"datum.p=='A0S'"}],"mark":{"type":"line","interpolate":"linear-closed","filled":true,"fill":"#8c8c8c","fillOpacity":0.4,"stroke":"#8c8c8c","strokeOpacity":0.6,"strokeWidth":0.8},"encoding":{"order":{"field":"o","type":"quantitative"},"detail":{"field":"g","type":"nominal"}}},{"data":{"name":"pts"},"transform":[{"filter":"datum.p=='A0S'"}],"mark":{"type":"point","shape":"cross","filled":true,"color":"#000000","size":24,"opacity":1}}]},
{"width":1,"height":1,"data":{"values":[]},"mark":"point"},
{"width":133,"height":141,"view":{"stroke":"#333333","strokeWidth":1.2},"encoding":{"x":{"field":"x","type":"quantitative","scale":{"domain":[-0.521,0.572],"nice":false,"zero":false},"axis":{"values":[-0.5,-0.375,-0.25,-0.125,0,0.125,0.25,0.375,0.5],"title":null,"labels":false,"ticks":false,"gridColor":{"condition":{"test":"abs(round(datum.value*8))%2==1","value":"#f0f0f0"},"value":"#e2e2e2"},"gridWidth":{"condition":{"test":"abs(round(datum.value*8))%2==1","value":0.8},"value":1.2}}},"y":{"field":"y","type":"quantitative","scale":{"domain":[-0.395,0.454],"nice":false,"zero":false},"axis":{"values":[-0.3,-0.2,-0.1,0,0.1,0.2,0.3,0.4],"title":null,"labels":false,"ticks":false,"gridColor":{"condition":{"test":"abs(round(datum.value*10))%2==1","value":"#f0f0f0"},"value":"#e2e2e2"},"gridWidth":{"condition":{"test":"abs(round(datum.value*10))%2==1","value":0.8},"value":1.2}}}},"layer":[{"data":{"name":"hull"},"transform":[{"filter":"datum.p=='A0G'"}],"mark":{"type":"line","interpolate":"linear-closed","filled":true,"fill":"#8c8c8c","fillOpacity":0.4,"stroke":"#8c8c8c","strokeOpacity":0.6,"strokeWidth":0.8},"encoding":{"order":{"field":"o","type":"quantitative"},"detail":{"field":"g","type":"nominal"}}},{"data":{"name":"pts"},"transform":[{"filter":"datum.p=='A0G'"}],"mark":{"type":"point","shape":"cross","filled":true,"color":"#000000","size":24,"opacity":1}}]},
{"width":39,"height":141,"view":{"fill":"#d9d9d9","stroke":"#333333","strokeWidth":1.2},"data":{"values":[{"t":"Week 0"}]},"mark":{"type":"text","angle":90,"font":"Liberation Sans","fontSize":19,"color":"#1a1a1a"},"encoding":{"text":{"field":"t","type":"nominal"}}},

{"width":1,"height":12,"data":{"values":[]},"mark":"point"},{"width":1,"height":1,"data":{"values":[]},"mark":"point"},{"width":1,"height":1,"data":{"values":[]},"mark":"point"},{"width":1,"height":1,"data":{"values":[]},"mark":"point"},{"width":1,"height":1,"data":{"values":[]},"mark":"point"},

{"width":1,"height":141,"data":{"values":[]},"mark":"point"},
{"width":133,"height":141,"view":{"stroke":"#333333","strokeWidth":1.2},"encoding":{"x":{"field":"x","type":"quantitative","scale":{"domain":[-0.521,0.572],"nice":false,"zero":false},"axis":{"values":[-0.5,-0.375,-0.25,-0.125,0,0.125,0.25,0.375,0.5],"title":null,"labels":false,"ticks":false,"gridColor":{"condition":{"test":"abs(round(datum.value*8))%2==1","value":"#f0f0f0"},"value":"#e2e2e2"},"gridWidth":{"condition":{"test":"abs(round(datum.value*8))%2==1","value":0.8},"value":1.2}}},"y":{"field":"y","type":"quantitative","scale":{"domain":[-0.395,0.454],"nice":false,"zero":false},"axis":{"values":[-0.3,-0.2,-0.1,0,0.1,0.2,0.3,0.4],"title":null,"tickSize":5,"labelPadding":4,"labelExpr":"abs(round(datum.value*10))%2==1 ? '' : replace(format(datum.value,'.1f'),'\u2212','-')","tickColor":{"condition":{"test":"abs(round(datum.value*10))%2==1","value":"transparent"},"value":"#333333"},"gridColor":{"condition":{"test":"abs(round(datum.value*10))%2==1","value":"#f0f0f0"},"value":"#e2e2e2"},"gridWidth":{"condition":{"test":"abs(round(datum.value*10))%2==1","value":0.8},"value":1.2}}}},"layer":[{"data":{"name":"hull"},"transform":[{"filter":"datum.p=='A1S'"}],"mark":{"type":"line","interpolate":"linear-closed","filled":true,"fill":"#8c8c8c","fillOpacity":0.4,"stroke":"#8c8c8c","strokeOpacity":0.6,"strokeWidth":0.8},"encoding":{"order":{"field":"o","type":"quantitative"},"detail":{"field":"g","type":"nominal"}}},{"data":{"name":"pts"},"transform":[{"filter":"datum.p=='A1S'"}],"mark":{"type":"point","shape":"cross","filled":true,"color":"#000000","size":24,"opacity":1}}]},
{"width":1,"height":1,"data":{"values":[]},"mark":"point"},
{"width":133,"height":141,"view":{"stroke":"#333333","strokeWidth":1.2},"encoding":{"x":{"field":"x","type":"quantitative","scale":{"domain":[-0.521,0.572],"nice":false,"zero":false},"axis":{"values":[-0.5,-0.375,-0.25,-0.125,0,0.125,0.25,0.375,0.5],"title":null,"labels":false,"ticks":false,"gridColor":{"condition":{"test":"abs(round(datum.value*8))%2==1","value":"#f0f0f0"},"value":"#e2e2e2"},"gridWidth":{"condition":{"test":"abs(round(datum.value*8))%2==1","value":0.8},"value":1.2}}},"y":{"field":"y","type":"quantitative","scale":{"domain":[-0.395,0.454],"nice":false,"zero":false},"axis":{"values":[-0.3,-0.2,-0.1,0,0.1,0.2,0.3,0.4],"title":null,"labels":false,"ticks":false,"gridColor":{"condition":{"test":"abs(round(datum.value*10))%2==1","value":"#f0f0f0"},"value":"#e2e2e2"},"gridWidth":{"condition":{"test":"abs(round(datum.value*10))%2==1","value":0.8},"value":1.2}}}},"layer":[{"data":{"name":"hull"},"transform":[{"filter":"datum.p=='A1G'"}],"mark":{"type":"line","interpolate":"linear-closed","filled":true,"fill":"#8c8c8c","fillOpacity":0.4,"stroke":"#8c8c8c","strokeOpacity":0.6,"strokeWidth":0.8},"encoding":{"order":{"field":"o","type":"quantitative"},"detail":{"field":"g","type":"nominal"}}},{"data":{"name":"pts"},"transform":[{"filter":"datum.p=='A1G'"}],"mark":{"type":"point","shape":"cross","filled":true,"color":"#000000","size":24,"opacity":1}}]},
{"width":39,"height":141,"view":{"fill":"#d9d9d9","stroke":"#333333","strokeWidth":1.2},"data":{"values":[{"t":"Week 1"}]},"mark":{"type":"text","angle":90,"font":"Liberation Sans","fontSize":19,"color":"#1a1a1a"},"encoding":{"text":{"field":"t","type":"nominal"}}},

{"width":1,"height":12,"data":{"values":[]},"mark":"point"},{"width":1,"height":1,"data":{"values":[]},"mark":"point"},{"width":1,"height":1,"data":{"values":[]},"mark":"point"},{"width":1,"height":1,"data":{"values":[]},"mark":"point"},{"width":1,"height":1,"data":{"values":[]},"mark":"point"},

{"width":1,"height":141,"data":{"values":[]},"mark":"point"},
{"width":133,"height":141,"view":{"stroke":"#333333","strokeWidth":1.2},"encoding":{"x":{"field":"x","type":"quantitative","scale":{"domain":[-0.521,0.572],"nice":false,"zero":false},"axis":{"values":[-0.5,-0.375,-0.25,-0.125,0,0.125,0.25,0.375,0.5],"title":null,"labels":false,"ticks":false,"gridColor":{"condition":{"test":"abs(round(datum.value*8))%2==1","value":"#f0f0f0"},"value":"#e2e2e2"},"gridWidth":{"condition":{"test":"abs(round(datum.value*8))%2==1","value":0.8},"value":1.2}}},"y":{"field":"y","type":"quantitative","scale":{"domain":[-0.395,0.454],"nice":false,"zero":false},"axis":{"values":[-0.3,-0.2,-0.1,0,0.1,0.2,0.3,0.4],"title":null,"tickSize":5,"labelPadding":4,"labelExpr":"abs(round(datum.value*10))%2==1 ? '' : replace(format(datum.value,'.1f'),'\u2212','-')","tickColor":{"condition":{"test":"abs(round(datum.value*10))%2==1","value":"transparent"},"value":"#333333"},"gridColor":{"condition":{"test":"abs(round(datum.value*10))%2==1","value":"#f0f0f0"},"value":"#e2e2e2"},"gridWidth":{"condition":{"test":"abs(round(datum.value*10))%2==1","value":0.8},"value":1.2}}}},"layer":[{"data":{"name":"hull"},"transform":[{"filter":"datum.p=='A2S'"}],"mark":{"type":"line","interpolate":"linear-closed","filled":true,"fill":"#8c8c8c","fillOpacity":0.4,"stroke":"#8c8c8c","strokeOpacity":0.6,"strokeWidth":0.8},"encoding":{"order":{"field":"o","type":"quantitative"},"detail":{"field":"g","type":"nominal"}}},{"data":{"name":"pts"},"transform":[{"filter":"datum.p=='A2S'"}],"mark":{"type":"point","shape":"cross","filled":true,"color":"#000000","size":24,"opacity":1}}]},
{"width":1,"height":1,"data":{"values":[]},"mark":"point"},
{"width":133,"height":141,"view":{"stroke":"#333333","strokeWidth":1.2},"encoding":{"x":{"field":"x","type":"quantitative","scale":{"domain":[-0.521,0.572],"nice":false,"zero":false},"axis":{"values":[-0.5,-0.375,-0.25,-0.125,0,0.125,0.25,0.375,0.5],"title":null,"labels":false,"ticks":false,"gridColor":{"condition":{"test":"abs(round(datum.value*8))%2==1","value":"#f0f0f0"},"value":"#e2e2e2"},"gridWidth":{"condition":{"test":"abs(round(datum.value*8))%2==1","value":0.8},"value":1.2}}},"y":{"field":"y","type":"quantitative","scale":{"domain":[-0.395,0.454],"nice":false,"zero":false},"axis":{"values":[-0.3,-0.2,-0.1,0,0.1,0.2,0.3,0.4],"title":null,"labels":false,"ticks":false,"gridColor":{"condition":{"test":"abs(round(datum.value*10))%2==1","value":"#f0f0f0"},"value":"#e2e2e2"},"gridWidth":{"condition":{"test":"abs(round(datum.value*10))%2==1","value":0.8},"value":1.2}}}},"layer":[{"data":{"name":"hull"},"transform":[{"filter":"datum.p=='A2G'"}],"mark":{"type":"line","interpolate":"linear-closed","filled":true,"fill":"#8c8c8c","fillOpacity":0.4,"stroke":"#8c8c8c","strokeOpacity":0.6,"strokeWidth":0.8},"encoding":{"order":{"field":"o","type":"quantitative"},"detail":{"field":"g","type":"nominal"}}},{"data":{"name":"pts"},"transform":[{"filter":"datum.p=='A2G'"}],"mark":{"type":"point","shape":"cross","filled":true,"color":"#000000","size":24,"opacity":1}}]},
{"width":39,"height":141,"view":{"fill":"#d9d9d9","stroke":"#333333","strokeWidth":1.2},"data":{"values":[{"t":"Week 2"}]},"mark":{"type":"text","angle":90,"font":"Liberation Sans","fontSize":19,"color":"#1a1a1a"},"encoding":{"text":{"field":"t","type":"nominal"}}},

{"width":1,"height":12,"data":{"values":[]},"mark":"point"},{"width":1,"height":1,"data":{"values":[]},"mark":"point"},{"width":1,"height":1,"data":{"values":[]},"mark":"point"},{"width":1,"height":1,"data":{"values":[]},"mark":"point"},{"width":1,"height":1,"data":{"values":[]},"mark":"point"},

{"width":1,"height":141,"data":{"values":[]},"mark":"point"},
{"width":133,"height":141,"view":{"stroke":"#333333","strokeWidth":1.2},"encoding":{"x":{"field":"x","type":"quantitative","scale":{"domain":[-0.521,0.572],"nice":false,"zero":false},"axis":{"values":[-0.5,-0.375,-0.25,-0.125,0,0.125,0.25,0.375,0.5],"title":null,"labels":false,"ticks":false,"gridColor":{"condition":{"test":"abs(round(datum.value*8))%2==1","value":"#f0f0f0"},"value":"#e2e2e2"},"gridWidth":{"condition":{"test":"abs(round(datum.value*8))%2==1","value":0.8},"value":1.2}}},"y":{"field":"y","type":"quantitative","scale":{"domain":[-0.395,0.454],"nice":false,"zero":false},"axis":{"values":[-0.3,-0.2,-0.1,0,0.1,0.2,0.3,0.4],"title":"MDS2","titlePadding":13,"tickSize":5,"labelPadding":4,"labelExpr":"abs(round(datum.value*10))%2==1 ? '' : replace(format(datum.value,'.1f'),'\u2212','-')","tickColor":{"condition":{"test":"abs(round(datum.value*10))%2==1","value":"transparent"},"value":"#333333"},"gridColor":{"condition":{"test":"abs(round(datum.value*10))%2==1","value":"#f0f0f0"},"value":"#e2e2e2"},"gridWidth":{"condition":{"test":"abs(round(datum.value*10))%2==1","value":0.8},"value":1.2}}}},"layer":[{"data":{"name":"hull"},"transform":[{"filter":"datum.p=='A3S'"}],"mark":{"type":"line","interpolate":"linear-closed","filled":true,"fill":"#8c8c8c","fillOpacity":0.4,"stroke":"#8c8c8c","strokeOpacity":0.6,"strokeWidth":0.8},"encoding":{"order":{"field":"o","type":"quantitative"},"detail":{"field":"g","type":"nominal"}}},{"data":{"name":"pts"},"transform":[{"filter":"datum.p=='A3S'"}],"mark":{"type":"point","shape":"cross","filled":true,"color":"#000000","size":24,"opacity":1}}]},
{"width":1,"height":1,"data":{"values":[]},"mark":"point"},
{"width":133,"height":141,"view":{"stroke":"#333333","strokeWidth":1.2},"encoding":{"x":{"field":"x","type":"quantitative","scale":{"domain":[-0.521,0.572],"nice":false,"zero":false},"axis":{"values":[-0.5,-0.375,-0.25,-0.125,0,0.125,0.25,0.375,0.5],"title":null,"labels":false,"ticks":false,"gridColor":{"condition":{"test":"abs(round(datum.value*8))%2==1","value":"#f0f0f0"},"value":"#e2e2e2"},"gridWidth":{"condition":{"test":"abs(round(datum.value*8))%2==1","value":0.8},"value":1.2}}},"y":{"field":"y","type":"quantitative","scale":{"domain":[-0.395,0.454],"nice":false,"zero":false},"axis":{"values":[-0.3,-0.2,-0.1,0,0.1,0.2,0.3,0.4],"title":null,"labels":false,"ticks":false,"gridColor":{"condition":{"test":"abs(round(datum.value*10))%2==1","value":"#f0f0f0"},"value":"#e2e2e2"},"gridWidth":{"condition":{"test":"abs(round(datum.value*10))%2==1","value":0.8},"value":1.2}}}},"layer":[{"data":{"name":"hull"},"transform":[{"filter":"datum.p=='A3G'"}],"mark":{"type":"line","interpolate":"linear-closed","filled":true,"fill":"#8c8c8c","fillOpacity":0.4,"stroke":"#8c8c8c","strokeOpacity":0.6,"strokeWidth":0.8},"encoding":{"order":{"field":"o","type":"quantitative"},"detail":{"field":"g","type":"nominal"}}},{"data":{"name":"pts"},"transform":[{"filter":"datum.p=='A3G'"}],"mark":{"type":"point","shape":"cross","filled":true,"color":"#000000","size":24,"opacity":1}}]},
{"width":39,"height":141,"view":{"fill":"#d9d9d9","stroke":"#333333","strokeWidth":1.2},"data":{"values":[{"t":"Week 3"}]},"mark":{"type":"text","angle":90,"font":"Liberation Sans","fontSize":19,"color":"#1a1a1a"},"encoding":{"text":{"field":"t","type":"nominal"}}},

{"width":1,"height":12,"data":{"values":[]},"mark":"point"},{"width":1,"height":1,"data":{"values":[]},"mark":"point"},{"width":1,"height":1,"data":{"values":[]},"mark":"point"},{"width":1,"height":1,"data":{"values":[]},"mark":"point"},{"width":1,"height":1,"data":{"values":[]},"mark":"point"},

{"width":1,"height":141,"data":{"values":[]},"mark":"point"},
{"width":133,"height":141,"view":{"stroke":"#333333","strokeWidth":1.2},"encoding":{"x":{"field":"x","type":"quantitative","scale":{"domain":[-0.521,0.572],"nice":false,"zero":false},"axis":{"values":[-0.5,-0.375,-0.25,-0.125,0,0.125,0.25,0.375,0.5],"title":null,"labels":false,"ticks":false,"gridColor":{"condition":{"test":"abs(round(datum.value*8))%2==1","value":"#f0f0f0"},"value":"#e2e2e2"},"gridWidth":{"condition":{"test":"abs(round(datum.value*8))%2==1","value":0.8},"value":1.2}}},"y":{"field":"y","type":"quantitative","scale":{"domain":[-0.395,0.454],"nice":false,"zero":false},"axis":{"values":[-0.3,-0.2,-0.1,0,0.1,0.2,0.3,0.4],"title":null,"tickSize":5,"labelPadding":4,"labelExpr":"abs(round(datum.value*10))%2==1 ? '' : replace(format(datum.value,'.1f'),'\u2212','-')","tickColor":{"condition":{"test":"abs(round(datum.value*10))%2==1","value":"transparent"},"value":"#333333"},"gridColor":{"condition":{"test":"abs(round(datum.value*10))%2==1","value":"#f0f0f0"},"value":"#e2e2e2"},"gridWidth":{"condition":{"test":"abs(round(datum.value*10))%2==1","value":0.8},"value":1.2}}}},"layer":[{"data":{"name":"hull"},"transform":[{"filter":"datum.p=='A4S'"}],"mark":{"type":"line","interpolate":"linear-closed","filled":true,"fill":"#8c8c8c","fillOpacity":0.4,"stroke":"#8c8c8c","strokeOpacity":0.6,"strokeWidth":0.8},"encoding":{"order":{"field":"o","type":"quantitative"},"detail":{"field":"g","type":"nominal"}}},{"data":{"name":"pts"},"transform":[{"filter":"datum.p=='A4S'"}],"mark":{"type":"point","shape":"cross","filled":true,"color":"#000000","size":24,"opacity":1}}]},
{"width":1,"height":1,"data":{"values":[]},"mark":"point"},
{"width":133,"height":141,"view":{"stroke":"#333333","strokeWidth":1.2},"encoding":{"x":{"field":"x","type":"quantitative","scale":{"domain":[-0.521,0.572],"nice":false,"zero":false},"axis":{"values":[-0.5,-0.375,-0.25,-0.125,0,0.125,0.25,0.375,0.5],"title":null,"labels":false,"ticks":false,"gridColor":{"condition":{"test":"abs(round(datum.value*8))%2==1","value":"#f0f0f0"},"value":"#e2e2e2"},"gridWidth":{"condition":{"test":"abs(round(datum.value*8))%2==1","value":0.8},"value":1.2}}},"y":{"field":"y","type":"quantitative","scale":{"domain":[-0.395,0.454],"nice":false,"zero":false},"axis":{"values":[-0.3,-0.2,-0.1,0,0.1,0.2,0.3,0.4],"title":null,"labels":false,"ticks":false,"gridColor":{"condition":{"test":"abs(round(datum.value*10))%2==1","value":"#f0f0f0"},"value":"#e2e2e2"},"gridWidth":{"condition":{"test":"abs(round(datum.value*10))%2==1","value":0.8},"value":1.2}}}},"layer":[{"data":{"name":"hull"},"transform":[{"filter":"datum.p=='A4G'"}],"mark":{"type":"line","interpolate":"linear-closed","filled":true,"fill":"#8c8c8c","fillOpacity":0.4,"stroke":"#8c8c8c","strokeOpacity":0.6,"strokeWidth":0.8},"encoding":{"order":{"field":"o","type":"quantitative"},"detail":{"field":"g","type":"nominal"}}},{"data":{"name":"pts"},"transform":[{"filter":"datum.p=='A4G'"}],"mark":{"type":"point","shape":"cross","filled":true,"color":"#000000","size":24,"opacity":1}}]},
{"width":39,"height":141,"view":{"fill":"#d9d9d9","stroke":"#333333","strokeWidth":1.2},"data":{"values":[{"t":"Week 4"}]},"mark":{"type":"text","angle":90,"font":"Liberation Sans","fontSize":19,"color":"#1a1a1a"},"encoding":{"text":{"field":"t","type":"nominal"}}},

{"width":1,"height":12,"data":{"values":[]},"mark":"point"},{"width":1,"height":1,"data":{"values":[]},"mark":"point"},{"width":1,"height":1,"data":{"values":[]},"mark":"point"},{"width":1,"height":1,"data":{"values":[]},"mark":"point"},{"width":1,"height":1,"data":{"values":[]},"mark":"point"},

{"width":1,"height":141,"data":{"values":[]},"mark":"point"},
{"width":133,"height":141,"view":{"stroke":"#333333","strokeWidth":1.2},"encoding":{"x":{"field":"x","type":"quantitative","scale":{"domain":[-0.521,0.572],"nice":false,"zero":false},"axis":{"values":[-0.5,-0.375,-0.25,-0.125,0,0.125,0.25,0.375,0.5],"title":null,"labels":false,"ticks":false,"gridColor":{"condition":{"test":"abs(round(datum.value*8))%2==1","value":"#f0f0f0"},"value":"#e2e2e2"},"gridWidth":{"condition":{"test":"abs(round(datum.value*8))%2==1","value":0.8},"value":1.2}}},"y":{"field":"y","type":"quantitative","scale":{"domain":[-0.395,0.454],"nice":false,"zero":false},"axis":{"values":[-0.3,-0.2,-0.1,0,0.1,0.2,0.3,0.4],"title":null,"tickSize":5,"labelPadding":4,"labelExpr":"abs(round(datum.value*10))%2==1 ? '' : replace(format(datum.value,'.1f'),'\u2212','-')","tickColor":{"condition":{"test":"abs(round(datum.value*10))%2==1","value":"transparent"},"value":"#333333"},"gridColor":{"condition":{"test":"abs(round(datum.value*10))%2==1","value":"#f0f0f0"},"value":"#e2e2e2"},"gridWidth":{"condition":{"test":"abs(round(datum.value*10))%2==1","value":0.8},"value":1.2}}}},"layer":[{"data":{"name":"hull"},"transform":[{"filter":"datum.p=='A5S'"}],"mark":{"type":"line","interpolate":"linear-closed","filled":true,"fill":"#8c8c8c","fillOpacity":0.4,"stroke":"#8c8c8c","strokeOpacity":0.6,"strokeWidth":0.8},"encoding":{"order":{"field":"o","type":"quantitative"},"detail":{"field":"g","type":"nominal"}}},{"data":{"name":"pts"},"transform":[{"filter":"datum.p=='A5S'"}],"mark":{"type":"point","shape":"cross","filled":true,"color":"#000000","size":24,"opacity":1}}]},
{"width":1,"height":1,"data":{"values":[]},"mark":"point"},
{"width":133,"height":141,"view":{"stroke":"#333333","strokeWidth":1.2},"encoding":{"x":{"field":"x","type":"quantitative","scale":{"domain":[-0.521,0.572],"nice":false,"zero":false},"axis":{"values":[-0.5,-0.375,-0.25,-0.125,0,0.125,0.25,0.375,0.5],"title":null,"labels":false,"ticks":false,"gridColor":{"condition":{"test":"abs(round(datum.value*8))%2==1","value":"#f0f0f0"},"value":"#e2e2e2"},"gridWidth":{"condition":{"test":"abs(round(datum.value*8))%2==1","value":0.8},"value":1.2}}},"y":{"field":"y","type":"quantitative","scale":{"domain":[-0.395,0.454],"nice":false,"zero":false},"axis":{"values":[-0.3,-0.2,-0.1,0,0.1,0.2,0.3,0.4],"title":null,"labels":false,"ticks":false,"gridColor":{"condition":{"test":"abs(round(datum.value*10))%2==1","value":"#f0f0f0"},"value":"#e2e2e2"},"gridWidth":{"condition":{"test":"abs(round(datum.value*10))%2==1","value":0.8},"value":1.2}}}},"layer":[{"data":{"name":"hull"},"transform":[{"filter":"datum.p=='A5G'"}],"mark":{"type":"line","interpolate":"linear-closed","filled":true,"fill":"#8c8c8c","fillOpacity":0.4,"stroke":"#8c8c8c","strokeOpacity":0.6,"strokeWidth":0.8},"encoding":{"order":{"field":"o","type":"quantitative"},"detail":{"field":"g","type":"nominal"}}},{"data":{"name":"pts"},"transform":[{"filter":"datum.p=='A5G'"}],"mark":{"type":"point","shape":"cross","filled":true,"color":"#000000","size":24,"opacity":1}}]},
{"width":39,"height":141,"view":{"fill":"#d9d9d9","stroke":"#333333","strokeWidth":1.2},"data":{"values":[{"t":"Week 5"}]},"mark":{"type":"text","angle":90,"font":"Liberation Sans","fontSize":19,"color":"#1a1a1a"},"encoding":{"text":{"field":"t","type":"nominal"}}},

{"width":1,"height":12,"data":{"values":[]},"mark":"point"},{"width":1,"height":1,"data":{"values":[]},"mark":"point"},{"width":1,"height":1,"data":{"values":[]},"mark":"point"},{"width":1,"height":1,"data":{"values":[]},"mark":"point"},{"width":1,"height":1,"data":{"values":[]},"mark":"point"},

{"width":1,"height":141,"data":{"values":[]},"mark":"point"},
{"width":133,"height":141,"view":{"stroke":"#333333","strokeWidth":1.2},"encoding":{"x":{"field":"x","type":"quantitative","scale":{"domain":[-0.521,0.572],"nice":false,"zero":false},"axis":{"values":[-0.5,-0.375,-0.25,-0.125,0,0.125,0.25,0.375,0.5],"title":null,"tickSize":5,"labelPadding":3,"labelExpr":"abs(round(datum.value*8))%2==1 ? '' : replace(format(datum.value,'.2f'),'\u2212','-')","tickColor":{"condition":{"test":"abs(round(datum.value*8))%2==1","value":"transparent"},"value":"#333333"},"gridColor":{"condition":{"test":"abs(round(datum.value*8))%2==1","value":"#f0f0f0"},"value":"#e2e2e2"},"gridWidth":{"condition":{"test":"abs(round(datum.value*8))%2==1","value":0.8},"value":1.2}}},"y":{"field":"y","type":"quantitative","scale":{"domain":[-0.395,0.454],"nice":false,"zero":false},"axis":{"values":[-0.3,-0.2,-0.1,0,0.1,0.2,0.3,0.4],"title":null,"tickSize":5,"labelPadding":4,"labelExpr":"abs(round(datum.value*10))%2==1 ? '' : replace(format(datum.value,'.1f'),'\u2212','-')","tickColor":{"condition":{"test":"abs(round(datum.value*10))%2==1","value":"transparent"},"value":"#333333"},"gridColor":{"condition":{"test":"abs(round(datum.value*10))%2==1","value":"#f0f0f0"},"value":"#e2e2e2"},"gridWidth":{"condition":{"test":"abs(round(datum.value*10))%2==1","value":0.8},"value":1.2}}}},"layer":[{"data":{"name":"hull"},"transform":[{"filter":"datum.p=='A6S'"}],"mark":{"type":"line","interpolate":"linear-closed","filled":true,"fill":"#8c8c8c","fillOpacity":0.4,"stroke":"#8c8c8c","strokeOpacity":0.6,"strokeWidth":0.8},"encoding":{"order":{"field":"o","type":"quantitative"},"detail":{"field":"g","type":"nominal"}}},{"data":{"name":"pts"},"transform":[{"filter":"datum.p=='A6S'"}],"mark":{"type":"point","shape":"cross","filled":true,"color":"#000000","size":24,"opacity":1}}]},
{"width":1,"height":1,"data":{"values":[]},"mark":"point"},
{"width":133,"height":141,"view":{"stroke":"#333333","strokeWidth":1.2},"encoding":{"x":{"field":"x","type":"quantitative","scale":{"domain":[-0.521,0.572],"nice":false,"zero":false},"axis":{"values":[-0.5,-0.375,-0.25,-0.125,0,0.125,0.25,0.375,0.5],"title":null,"tickSize":5,"labelPadding":3,"labelExpr":"abs(round(datum.value*8))%2==1 ? '' : replace(format(datum.value,'.2f'),'\u2212','-')","tickColor":{"condition":{"test":"abs(round(datum.value*8))%2==1","value":"transparent"},"value":"#333333"},"gridColor":{"condition":{"test":"abs(round(datum.value*8))%2==1","value":"#f0f0f0"},"value":"#e2e2e2"},"gridWidth":{"condition":{"test":"abs(round(datum.value*8))%2==1","value":0.8},"value":1.2}}},"y":{"field":"y","type":"quantitative","scale":{"domain":[-0.395,0.454],"nice":false,"zero":false},"axis":{"values":[-0.3,-0.2,-0.1,0,0.1,0.2,0.3,0.4],"title":null,"labels":false,"ticks":false,"gridColor":{"condition":{"test":"abs(round(datum.value*10))%2==1","value":"#f0f0f0"},"value":"#e2e2e2"},"gridWidth":{"condition":{"test":"abs(round(datum.value*10))%2==1","value":0.8},"value":1.2}}}},"layer":[{"data":{"name":"hull"},"transform":[{"filter":"datum.p=='A6G'"}],"mark":{"type":"line","interpolate":"linear-closed","filled":true,"fill":"#8c8c8c","fillOpacity":0.4,"stroke":"#8c8c8c","strokeOpacity":0.6,"strokeWidth":0.8},"encoding":{"order":{"field":"o","type":"quantitative"},"detail":{"field":"g","type":"nominal"}}},{"data":{"name":"pts"},"transform":[{"filter":"datum.p=='A6G'"}],"mark":{"type":"point","shape":"cross","filled":true,"color":"#000000","size":24,"opacity":1}}]},
{"width":39,"height":141,"view":{"fill":"#d9d9d9","stroke":"#333333","strokeWidth":1.2},"data":{"values":[{"t":"Week 6"}]},"mark":{"type":"text","angle":90,"font":"Liberation Sans","fontSize":19,"color":"#1a1a1a"},"encoding":{"text":{"field":"t","type":"nominal"}}},

{"width":1,"height":56,"data":{"values":[]},"mark":"point"},
{"width":1,"height":1,"data":{"values":[]},"mark":"point"},
{"width":13,"height":56,"data":{"values":[{"t":"MDS1"}]},"mark":{"type":"text","font":"Liberation Sans","fontSize":24,"baseline":"alphabetic","dy":27,"color":"#000000"},"encoding":{"text":{"field":"t","type":"nominal"}}},
{"width":1,"height":1,"data":{"values":[]},"mark":"point"},
{"width":1,"height":1,"data":{"values":[]},"mark":"point"}
]},
{"columns":5,"spacing":0,"bounds":"flush","align":"each","concat":[
{"width":114,"height":460,"data":{"values":[]},"mark":"point"},
{"width":134,"height":1,"data":{"values":[]},"mark":"point"},
{"width":12,"height":1,"data":{"values":[]},"mark":"point"},
{"width":133,"height":1,"data":{"values":[]},"mark":"point"},
{"width":30,"height":1,"data":{"values":[]},"mark":"point"},

{"width":1,"height":62,"data":{"values":[]},"mark":"point"},
{"width":134,"height":62,"layer":[
 {"data":{"values":[{"t":"B"}]},"mark":{"type":"text","font":"Open Sans","fontSize":37,"fontWeight":"bold","align":"left","baseline":"alphabetic","dx":-66,"dy":9,"color":"#000000"},"encoding":{"text":{"field":"t","type":"nominal"}}},
 {"data":{"values":[{"t":"16S Data"}]},"mark":{"type":"text","font":"Open Sans","fontSize":37,"fontWeight":"normal","align":"left","baseline":"alphabetic","dx":-30,"dy":9,"color":"#000000"},"encoding":{"text":{"field":"t","type":"nominal"}}}]},
{"width":1,"height":1,"data":{"values":[]},"mark":"point"},
{"width":1,"height":1,"data":{"values":[]},"mark":"point"},
{"width":1,"height":1,"data":{"values":[]},"mark":"point"},

{"width":1,"height":38,"data":{"values":[]},"mark":"point"},
{"width":134,"height":38,"view":{"fill":"#d9d9d9","stroke":"#333333","strokeWidth":1.2},"data":{"values":[{"t":"Species"}]},"mark":{"type":"text","font":"Liberation Sans","fontSize":19,"color":"#1a1a1a"},"encoding":{"text":{"field":"t","type":"nominal"}}},
{"width":1,"height":1,"data":{"values":[]},"mark":"point"},
{"width":133,"height":38,"view":{"fill":"#d9d9d9","stroke":"#333333","strokeWidth":1.2},"data":{"values":[{"t":"Genus"}]},"mark":{"type":"text","font":"Liberation Sans","fontSize":19,"color":"#1a1a1a"},"encoding":{"text":{"field":"t","type":"nominal"}}},
{"width":1,"height":1,"data":{"values":[]},"mark":"point"},

{"width":1,"height":141,"data":{"values":[]},"mark":"point"},
{"width":134,"height":141,"view":{"stroke":"#333333","strokeWidth":1.2},"encoding":{"x":{"field":"x","type":"quantitative","scale":{"domain":[-0.614,0.71],"nice":false,"zero":false},"axis":{"values":[-0.6,-0.45,-0.3,-0.15,0,0.15,0.3,0.45,0.6],"title":null,"labels":false,"ticks":false,"gridColor":{"condition":{"test":"abs(round(datum.value/0.15))%2==1","value":"#f0f0f0"},"value":"#e2e2e2"},"gridWidth":{"condition":{"test":"abs(round(datum.value/0.15))%2==1","value":0.8},"value":1.2}}},"y":{"field":"y","type":"quantitative","scale":{"domain":[-0.343,0.622],"nice":false,"zero":false},"axis":{"values":[-0.3,-0.2,-0.1,0,0.1,0.2,0.3,0.4,0.5,0.6],"title":"MDS2","titlePadding":13,"tickSize":5,"labelPadding":4,"labelExpr":"abs(round(datum.value*10))%2==1 ? '' : replace(format(datum.value,'.1f'),'\u2212','-')","tickColor":{"condition":{"test":"abs(round(datum.value*10))%2==1","value":"transparent"},"value":"#333333"},"gridColor":{"condition":{"test":"abs(round(datum.value*10))%2==1","value":"#f0f0f0"},"value":"#e2e2e2"},"gridWidth":{"condition":{"test":"abs(round(datum.value*10))%2==1","value":0.8},"value":1.2}}}},"layer":[{"data":{"name":"hull"},"transform":[{"filter":"datum.p=='B3S'"}],"mark":{"type":"line","interpolate":"linear-closed","filled":true,"fill":"#8c8c8c","fillOpacity":0.4,"stroke":"#8c8c8c","strokeOpacity":0.6,"strokeWidth":0.8},"encoding":{"order":{"field":"o","type":"quantitative"},"detail":{"field":"g","type":"nominal"}}},{"data":{"name":"pts"},"transform":[{"filter":"datum.p=='B3S'"}],"mark":{"type":"point","shape":"cross","filled":true,"color":"#000000","size":24,"opacity":1}}]},
{"width":1,"height":1,"data":{"values":[]},"mark":"point"},
{"width":133,"height":141,"view":{"stroke":"#333333","strokeWidth":1.2},"encoding":{"x":{"field":"x","type":"quantitative","scale":{"domain":[-0.614,0.71],"nice":false,"zero":false},"axis":{"values":[-0.6,-0.45,-0.3,-0.15,0,0.15,0.3,0.45,0.6],"title":null,"labels":false,"ticks":false,"gridColor":{"condition":{"test":"abs(round(datum.value/0.15))%2==1","value":"#f0f0f0"},"value":"#e2e2e2"},"gridWidth":{"condition":{"test":"abs(round(datum.value/0.15))%2==1","value":0.8},"value":1.2}}},"y":{"field":"y","type":"quantitative","scale":{"domain":[-0.343,0.622],"nice":false,"zero":false},"axis":{"values":[-0.3,-0.2,-0.1,0,0.1,0.2,0.3,0.4,0.5,0.6],"title":null,"labels":false,"ticks":false,"gridColor":{"condition":{"test":"abs(round(datum.value*10))%2==1","value":"#f0f0f0"},"value":"#e2e2e2"},"gridWidth":{"condition":{"test":"abs(round(datum.value*10))%2==1","value":0.8},"value":1.2}}}},"layer":[{"data":{"name":"hull"},"transform":[{"filter":"datum.p=='B3G'"}],"mark":{"type":"line","interpolate":"linear-closed","filled":true,"fill":"#8c8c8c","fillOpacity":0.4,"stroke":"#8c8c8c","strokeOpacity":0.6,"strokeWidth":0.8},"encoding":{"order":{"field":"o","type":"quantitative"},"detail":{"field":"g","type":"nominal"}}},{"data":{"name":"pts"},"transform":[{"filter":"datum.p=='B3G'"}],"mark":{"type":"point","shape":"cross","filled":true,"color":"#000000","size":24,"opacity":1}}]},
{"width":30,"height":141,"view":{"fill":"#d9d9d9","stroke":"#333333","strokeWidth":1.2},"data":{"values":[{"t":"Week 3"}]},"mark":{"type":"text","angle":90,"dy":-4,"font":"Liberation Sans","fontSize":19,"color":"#1a1a1a"},"encoding":{"text":{"field":"t","type":"nominal"}}},

{"width":1,"height":315,"data":{"values":[]},"mark":"point"},{"width":1,"height":1,"data":{"values":[]},"mark":"point"},{"width":1,"height":1,"data":{"values":[]},"mark":"point"},{"width":1,"height":1,"data":{"values":[]},"mark":"point"},{"width":1,"height":1,"data":{"values":[]},"mark":"point"},

{"width":1,"height":141,"data":{"values":[]},"mark":"point"},
{"width":134,"height":141,"view":{"stroke":"#333333","strokeWidth":1.2},"encoding":{"x":{"field":"x","type":"quantitative","scale":{"domain":[-0.614,0.71],"nice":false,"zero":false},"axis":{"values":[-0.6,-0.45,-0.3,-0.15,0,0.15,0.3,0.45,0.6],"title":null,"tickSize":5,"labelPadding":3,"labelExpr":"abs(round(datum.value/0.15))%2==1 ? '' : replace(format(datum.value,'.1f'),'\u2212','-')","tickColor":{"condition":{"test":"abs(round(datum.value/0.15))%2==1","value":"transparent"},"value":"#333333"},"gridColor":{"condition":{"test":"abs(round(datum.value/0.15))%2==1","value":"#f0f0f0"},"value":"#e2e2e2"},"gridWidth":{"condition":{"test":"abs(round(datum.value/0.15))%2==1","value":0.8},"value":1.2}}},"y":{"field":"y","type":"quantitative","scale":{"domain":[-0.343,0.622],"nice":false,"zero":false},"axis":{"values":[-0.3,-0.2,-0.1,0,0.1,0.2,0.3,0.4,0.5,0.6],"title":null,"tickSize":5,"labelPadding":4,"labelExpr":"abs(round(datum.value*10))%2==1 ? '' : replace(format(datum.value,'.1f'),'\u2212','-')","tickColor":{"condition":{"test":"abs(round(datum.value*10))%2==1","value":"transparent"},"value":"#333333"},"gridColor":{"condition":{"test":"abs(round(datum.value*10))%2==1","value":"#f0f0f0"},"value":"#e2e2e2"},"gridWidth":{"condition":{"test":"abs(round(datum.value*10))%2==1","value":0.8},"value":1.2}}}},"layer":[{"data":{"name":"hull"},"transform":[{"filter":"datum.p=='B6S'"}],"mark":{"type":"line","interpolate":"linear-closed","filled":true,"fill":"#8c8c8c","fillOpacity":0.4,"stroke":"#8c8c8c","strokeOpacity":0.6,"strokeWidth":0.8},"encoding":{"order":{"field":"o","type":"quantitative"},"detail":{"field":"g","type":"nominal"}}},{"data":{"name":"pts"},"transform":[{"filter":"datum.p=='B6S'"}],"mark":{"type":"point","shape":"cross","filled":true,"color":"#000000","size":24,"opacity":1}}]},
{"width":1,"height":1,"data":{"values":[]},"mark":"point"},
{"width":133,"height":141,"view":{"stroke":"#333333","strokeWidth":1.2},"encoding":{"x":{"field":"x","type":"quantitative","scale":{"domain":[-0.614,0.71],"nice":false,"zero":false},"axis":{"values":[-0.6,-0.45,-0.3,-0.15,0,0.15,0.3,0.45,0.6],"title":null,"tickSize":5,"labelPadding":3,"labelExpr":"abs(round(datum.value/0.15))%2==1 ? '' : replace(format(datum.value,'.1f'),'\u2212','-')","tickColor":{"condition":{"test":"abs(round(datum.value/0.15))%2==1","value":"transparent"},"value":"#333333"},"gridColor":{"condition":{"test":"abs(round(datum.value/0.15))%2==1","value":"#f0f0f0"},"value":"#e2e2e2"},"gridWidth":{"condition":{"test":"abs(round(datum.value/0.15))%2==1","value":0.8},"value":1.2}}},"y":{"field":"y","type":"quantitative","scale":{"domain":[-0.343,0.622],"nice":false,"zero":false},"axis":{"values":[-0.3,-0.2,-0.1,0,0.1,0.2,0.3,0.4,0.5,0.6],"title":null,"labels":false,"ticks":false,"gridColor":{"condition":{"test":"abs(round(datum.value*10))%2==1","value":"#f0f0f0"},"value":"#e2e2e2"},"gridWidth":{"condition":{"test":"abs(round(datum.value*10))%2==1","value":0.8},"value":1.2}}}},"layer":[{"data":{"name":"hull"},"transform":[{"filter":"datum.p=='B6G'"}],"mark":{"type":"line","interpolate":"linear-closed","filled":true,"fill":"#8c8c8c","fillOpacity":0.4,"stroke":"#8c8c8c","strokeOpacity":0.6,"strokeWidth":0.8},"encoding":{"order":{"field":"o","type":"quantitative"},"detail":{"field":"g","type":"nominal"}}},{"data":{"name":"pts"},"transform":[{"filter":"datum.p=='B6G'"}],"mark":{"type":"point","shape":"cross","filled":true,"color":"#000000","size":24,"opacity":1}}]},
{"width":30,"height":141,"view":{"fill":"#d9d9d9","stroke":"#333333","strokeWidth":1.2},"data":{"values":[{"t":"Week 6"}]},"mark":{"type":"text","angle":90,"dy":-4,"font":"Liberation Sans","fontSize":19,"color":"#1a1a1a"},"encoding":{"text":{"field":"t","type":"nominal"}}},

{"width":1,"height":59,"data":{"values":[]},"mark":"point"},
{"width":1,"height":1,"data":{"values":[]},"mark":"point"},
{"width":12,"height":59,"data":{"values":[{"t":"MDS1"}]},"mark":{"type":"text","font":"Liberation Sans","fontSize":24,"baseline":"alphabetic","dy":26.5,"color":"#000000"},"encoding":{"text":{"field":"t","type":"nominal"}}},
{"width":1,"height":1,"data":{"values":[]},"mark":"point"},
{"width":1,"height":1,"data":{"values":[]},"mark":"point"}
]}
]
}
